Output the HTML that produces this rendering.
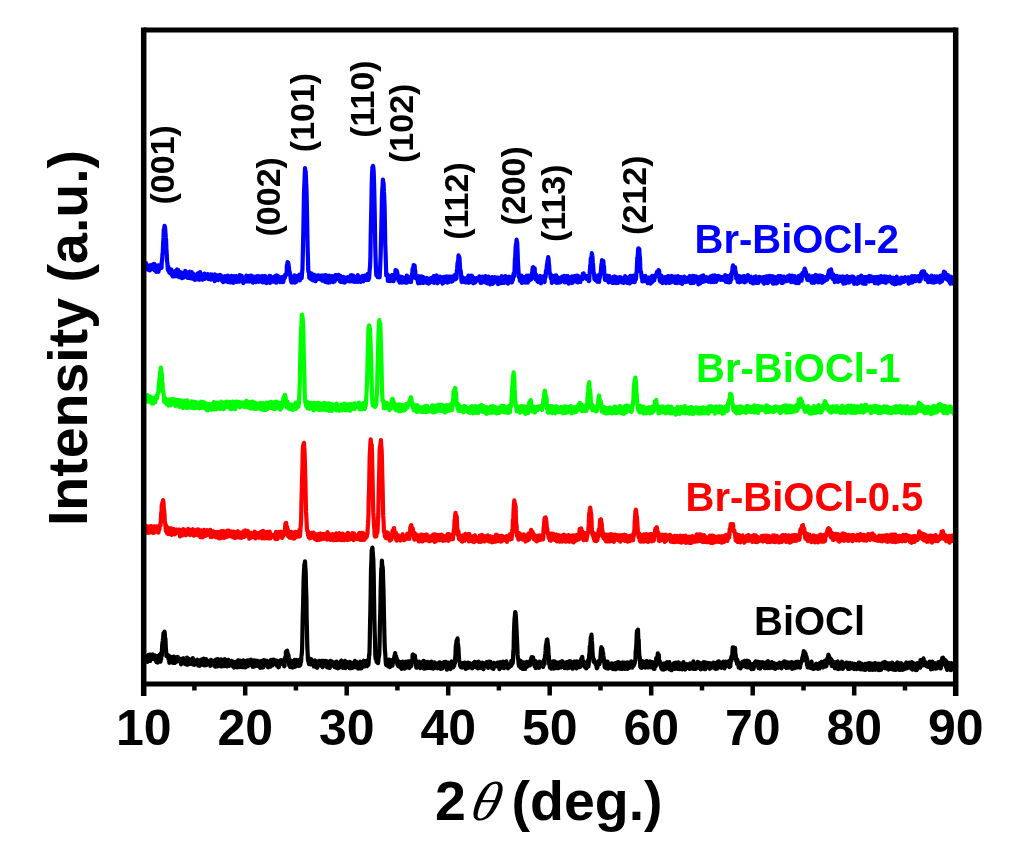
<!DOCTYPE html>
<html><head><meta charset="utf-8"><style>
html,body{margin:0;padding:0;background:#fff;}
svg{display:block;}
text{font-family:"Liberation Sans",Arial,sans-serif;font-weight:bold;}
.tk{font-size:50px;text-anchor:middle;}
.hkl{font-size:34px;text-anchor:middle;}
.lab{font-size:40px;}
</style></head><body>
<svg width="1014" height="853" viewBox="0 0 1014 853">
<rect width="1014" height="853" fill="#fff"/>
<polyline points="143.0,266.9 143.3,265.2 143.7,263.0 144.0,261.3 144.3,268.6 144.7,265.9 145.0,267.7 145.3,268.5 145.6,267.0 146.0,263.1 146.3,269.2 146.6,264.2 147.0,266.7 147.3,266.5 147.6,266.5 148.0,266.2 148.3,269.7 148.6,266.4 148.9,268.4 149.3,266.5 149.6,270.4 149.9,270.2 150.3,265.9 150.6,265.2 150.9,269.3 151.3,269.2 151.6,268.4 151.9,266.6 152.2,266.4 152.6,264.7 152.9,268.5 153.2,264.4 153.6,265.7 153.9,268.9 154.2,263.9 154.6,270.3 154.9,264.6 155.2,268.1 155.5,268.5 155.9,266.4 156.2,271.8 156.5,267.1 156.9,268.3 157.2,271.1 157.5,269.5 157.9,267.3 158.2,265.3 158.5,271.8 158.8,268.8 159.2,268.7 159.5,268.6 159.8,265.2 160.2,268.4 160.5,268.3 160.8,267.9 161.2,264.5 161.5,267.8 161.8,261.3 162.1,260.2 162.5,253.8 162.8,252.6 163.1,243.9 163.5,237.4 163.8,229.4 164.1,229.1 164.5,225.9 164.8,226.4 165.1,227.9 165.4,232.4 165.8,237.4 166.1,240.0 166.4,248.8 166.8,254.8 167.1,261.8 167.4,263.1 167.8,269.9 168.1,269.6 168.4,266.8 168.7,270.3 169.1,271.9 169.4,272.7 169.7,270.4 170.1,269.2 170.4,272.3 170.7,273.5 171.1,271.8 171.4,269.6 171.7,272.9 172.0,274.3 172.4,275.7 172.7,276.3 173.0,271.6 173.4,274.9 173.7,274.0 174.0,276.4 174.4,272.7 174.7,275.5 175.0,273.1 175.3,271.2 175.7,276.2 176.0,271.3 176.3,271.8 176.7,269.8 177.0,269.4 177.3,272.2 177.7,271.8 178.0,275.2 178.3,270.1 178.6,276.8 179.0,276.2 179.3,277.2 179.6,276.1 180.0,275.3 180.3,276.3 180.6,277.2 181.0,276.9 181.3,272.4 181.6,277.6 181.9,278.1 182.3,275.9 182.6,275.3 182.9,275.4 183.3,275.8 183.6,277.6 183.9,273.2 184.3,273.8 184.6,273.2 184.9,276.2 185.2,270.9 185.6,273.5 185.9,273.4 186.2,273.4 186.6,274.8 186.9,272.3 187.2,277.4 187.6,273.5 187.9,278.0 188.2,278.0 188.5,273.6 188.9,273.6 189.2,275.4 189.5,273.5 189.9,271.7 190.2,273.4 190.5,272.8 190.9,274.8 191.2,278.5 191.5,275.4 191.8,272.0 192.2,277.4 192.5,278.3 192.8,278.5 193.2,274.8 193.5,273.9 193.8,279.1 194.2,274.9 194.5,276.5 194.8,279.8 195.1,278.8 195.5,279.3 195.8,279.6 196.1,278.3 196.5,275.2 196.8,274.4 197.1,278.5 197.5,277.2 197.8,273.3 198.1,279.3 198.4,273.3 198.8,278.9 199.1,278.6 199.4,279.8 199.8,274.3 200.1,272.1 200.4,276.1 200.8,279.3 201.1,279.3 201.4,275.0 201.7,275.2 202.1,279.5 202.4,278.4 202.7,279.7 203.1,278.8 203.4,276.5 203.7,274.0 204.1,276.9 204.4,273.7 204.7,278.9 205.0,278.5 205.4,277.2 205.7,275.4 206.0,278.2 206.4,275.8 206.7,275.9 207.0,277.1 207.4,277.4 207.7,274.2 208.0,278.3 208.3,274.3 208.7,279.1 209.0,275.2 209.3,277.0 209.7,278.8 210.0,277.1 210.3,277.6 210.7,274.3 211.0,279.6 211.3,277.2 211.6,278.1 212.0,275.7 212.3,279.1 212.6,274.6 213.0,275.1 213.3,279.0 213.6,279.1 214.0,277.7 214.3,275.6 214.6,281.2 214.9,274.4 215.3,275.7 215.6,280.2 215.9,280.1 216.3,278.8 216.6,278.3 216.9,276.8 217.3,275.3 217.6,278.9 217.9,277.4 218.2,280.1 218.6,275.6 218.9,277.4 219.2,279.2 219.6,277.9 219.9,274.9 220.2,278.9 220.6,275.7 220.9,275.5 221.2,276.9 221.5,276.5 221.9,280.6 222.2,280.4 222.5,281.2 222.9,281.0 223.2,282.2 223.5,278.3 223.9,281.7 224.2,279.9 224.5,279.7 224.8,276.0 225.2,281.4 225.5,280.3 225.8,279.2 226.2,276.9 226.5,276.9 226.8,280.5 227.2,281.5 227.5,281.4 227.8,275.5 228.1,282.1 228.5,279.3 228.8,276.9 229.1,280.7 229.5,281.1 229.8,282.2 230.1,278.6 230.5,279.7 230.8,282.4 231.1,278.3 231.4,275.9 231.8,280.6 232.1,281.1 232.4,279.4 232.8,278.8 233.1,277.2 233.4,282.8 233.8,282.4 234.1,276.0 234.4,277.0 234.7,279.5 235.1,280.4 235.4,280.5 235.7,278.4 236.1,277.1 236.4,276.2 236.7,281.9 237.1,280.3 237.4,278.1 237.7,281.3 238.0,281.4 238.4,279.0 238.7,281.1 239.0,281.6 239.4,278.2 239.7,275.1 240.0,280.7 240.4,277.3 240.7,276.8 241.0,277.0 241.3,279.8 241.7,275.8 242.0,281.6 242.3,279.0 242.7,278.0 243.0,281.2 243.3,283.1 243.7,278.3 244.0,280.3 244.3,278.2 244.6,279.6 245.0,278.9 245.3,281.4 245.6,277.5 246.0,279.5 246.3,275.6 246.6,281.5 247.0,278.2 247.3,278.6 247.6,277.1 247.9,276.1 248.3,276.3 248.6,278.1 248.9,281.6 249.3,279.9 249.6,277.7 249.9,275.9 250.3,280.1 250.6,280.5 250.9,281.0 251.2,275.6 251.6,275.7 251.9,279.4 252.2,281.8 252.6,280.6 252.9,282.7 253.2,282.5 253.6,281.4 253.9,276.5 254.2,278.4 254.5,280.6 254.9,281.1 255.2,280.5 255.5,282.2 255.9,281.9 256.2,281.0 256.5,278.2 256.9,276.2 257.2,278.1 257.5,276.5 257.8,278.9 258.2,277.2 258.5,276.1 258.8,282.0 259.2,279.0 259.5,280.8 259.8,281.2 260.2,279.5 260.5,278.9 260.8,281.0 261.1,276.4 261.5,277.7 261.8,281.7 262.1,281.6 262.5,276.0 262.8,282.4 263.1,277.6 263.5,279.9 263.8,277.2 264.1,276.1 264.4,282.2 264.8,281.2 265.1,276.2 265.4,281.7 265.8,281.2 266.1,282.8 266.4,283.1 266.8,282.9 267.1,278.2 267.4,279.7 267.7,282.1 268.1,277.4 268.4,281.6 268.7,279.3 269.1,277.9 269.4,275.9 269.7,280.2 270.1,283.0 270.4,276.2 270.7,280.3 271.0,280.9 271.4,280.3 271.7,281.8 272.0,279.9 272.4,278.6 272.7,277.4 273.0,280.9 273.4,278.3 273.7,281.7 274.0,280.0 274.3,277.2 274.7,279.2 275.0,276.0 275.3,276.3 275.7,279.2 276.0,279.9 276.3,282.7 276.7,275.4 277.0,277.7 277.3,277.1 277.6,278.1 278.0,276.3 278.3,276.3 278.6,277.2 279.0,276.5 279.3,280.1 279.6,278.8 280.0,282.1 280.3,281.8 280.6,280.8 280.9,280.9 281.3,278.7 281.6,279.5 281.9,279.8 282.3,282.1 282.6,276.9 282.9,279.3 283.3,281.9 283.6,279.6 283.9,279.1 284.2,276.5 284.6,277.5 284.9,277.9 285.2,274.6 285.6,275.5 285.9,275.3 286.2,274.9 286.6,274.6 286.9,265.0 287.2,266.2 287.5,262.2 287.9,266.2 288.2,262.5 288.5,264.3 288.9,267.7 289.2,271.6 289.5,271.5 289.9,272.7 290.2,274.8 290.5,276.9 290.8,279.8 291.2,281.4 291.5,282.4 291.8,282.1 292.2,282.4 292.5,278.7 292.8,277.8 293.2,278.3 293.5,278.0 293.8,279.3 294.1,279.5 294.5,275.4 294.8,282.6 295.1,280.8 295.5,277.0 295.8,280.2 296.1,282.0 296.5,278.2 296.8,276.0 297.1,278.9 297.4,277.4 297.8,279.8 298.1,275.8 298.4,280.4 298.8,275.7 299.1,279.6 299.4,274.6 299.8,280.4 300.1,274.9 300.4,279.0 300.7,277.0 301.1,275.1 301.4,276.6 301.7,278.1 302.1,272.2 302.4,269.7 302.7,259.8 303.1,242.0 303.4,228.0 303.7,210.1 304.0,192.4 304.4,183.4 304.7,176.1 305.0,168.0 305.4,173.3 305.7,171.3 306.0,179.1 306.4,187.9 306.7,197.3 307.0,212.1 307.3,230.5 307.7,250.6 308.0,259.9 308.3,271.5 308.7,271.7 309.0,272.1 309.3,278.0 309.7,275.9 310.0,278.1 310.3,278.6 310.6,274.0 311.0,278.6 311.3,273.3 311.6,277.5 312.0,279.9 312.3,274.9 312.6,278.6 313.0,280.4 313.3,280.2 313.6,274.6 313.9,278.0 314.3,274.8 314.6,276.3 314.9,277.8 315.3,280.2 315.6,281.2 315.9,277.5 316.3,276.8 316.6,276.5 316.9,275.6 317.2,279.5 317.6,275.9 317.9,279.1 318.2,277.5 318.6,275.3 318.9,277.0 319.2,277.8 319.6,275.9 319.9,277.2 320.2,278.8 320.5,279.3 320.9,275.6 321.2,275.8 321.5,278.3 321.9,275.7 322.2,278.2 322.5,280.7 322.9,278.9 323.2,277.1 323.5,279.3 323.8,275.4 324.2,278.3 324.5,280.6 324.8,276.7 325.2,281.8 325.5,279.7 325.8,275.0 326.2,281.1 326.5,277.5 326.8,280.6 327.1,282.3 327.5,280.0 327.8,277.0 328.1,279.1 328.5,282.6 328.8,278.7 329.1,275.7 329.5,281.7 329.8,282.3 330.1,276.8 330.4,276.6 330.8,280.2 331.1,280.6 331.4,281.6 331.8,280.0 332.1,276.0 332.4,279.3 332.8,281.6 333.1,282.1 333.4,281.4 333.7,277.7 334.1,279.8 334.4,281.2 334.7,281.4 335.1,277.1 335.4,275.1 335.7,279.2 336.1,277.0 336.4,276.1 336.7,276.4 337.0,277.9 337.4,275.1 337.7,276.1 338.0,275.4 338.4,279.5 338.7,274.8 339.0,276.7 339.4,276.0 339.7,275.8 340.0,281.5 340.3,275.8 340.7,281.8 341.0,277.5 341.3,278.9 341.7,278.5 342.0,281.9 342.3,282.0 342.7,278.8 343.0,276.9 343.3,280.3 343.6,280.9 344.0,278.5 344.3,277.5 344.6,282.7 345.0,279.5 345.3,277.7 345.6,278.0 346.0,281.1 346.3,280.4 346.6,281.3 346.9,277.6 347.3,278.2 347.6,277.2 347.9,278.6 348.3,280.1 348.6,279.9 348.9,277.3 349.3,279.5 349.6,281.4 349.9,281.2 350.2,276.9 350.6,275.4 350.9,276.1 351.2,279.3 351.6,275.2 351.9,275.5 352.2,281.3 352.6,278.2 352.9,278.6 353.2,275.6 353.5,276.9 353.9,276.1 354.2,281.8 354.5,277.3 354.9,282.0 355.2,279.5 355.5,281.5 355.9,277.1 356.2,278.1 356.5,279.7 356.8,277.1 357.2,277.2 357.5,281.9 357.8,275.1 358.2,278.6 358.5,280.4 358.8,276.9 359.2,281.6 359.5,277.8 359.8,281.1 360.1,281.4 360.5,279.6 360.8,281.9 361.1,278.3 361.5,280.5 361.8,277.1 362.1,276.3 362.5,275.9 362.8,276.9 363.1,277.3 363.4,281.3 363.8,278.0 364.1,280.6 364.4,279.9 364.8,275.6 365.1,277.7 365.4,279.2 365.8,275.4 366.1,277.7 366.4,275.4 366.7,280.0 367.1,277.2 367.4,275.5 367.7,273.8 368.1,277.6 368.4,279.9 368.7,278.7 369.1,278.1 369.4,273.9 369.7,269.3 370.0,267.1 370.4,257.2 370.7,236.0 371.0,222.1 371.4,204.3 371.7,186.1 372.0,175.0 372.4,167.0 372.7,168.6 373.0,165.9 373.3,167.2 373.7,171.8 374.0,181.2 374.3,192.1 374.7,211.3 375.0,231.2 375.3,248.3 375.7,262.3 376.0,269.7 376.3,275.4 376.6,271.7 377.0,274.9 377.3,275.9 377.6,277.1 378.0,273.5 378.3,275.9 378.6,273.2 379.0,276.5 379.3,276.2 379.6,277.3 379.9,272.5 380.3,263.2 380.6,256.5 380.9,244.4 381.3,228.7 381.6,214.7 381.9,198.0 382.3,189.3 382.6,185.8 382.9,179.5 383.2,182.0 383.6,183.5 383.9,191.4 384.2,195.8 384.6,206.5 384.9,222.9 385.2,243.1 385.6,252.8 385.9,263.7 386.2,275.4 386.5,275.4 386.9,274.8 387.2,276.0 387.5,274.3 387.9,280.8 388.2,276.0 388.5,275.8 388.9,280.1 389.2,278.9 389.5,276.2 389.8,278.0 390.2,281.2 390.5,278.8 390.8,277.4 391.2,279.0 391.5,277.1 391.8,275.0 392.2,275.5 392.5,280.2 392.8,277.6 393.1,279.4 393.5,281.2 393.8,278.5 394.1,274.7 394.5,279.1 394.8,276.6 395.1,276.2 395.5,270.0 395.8,276.7 396.1,274.7 396.4,270.4 396.8,273.1 397.1,271.6 397.4,273.3 397.8,278.5 398.1,275.9 398.4,280.7 398.8,278.3 399.1,278.9 399.4,276.4 399.7,282.7 400.1,281.3 400.4,281.6 400.7,279.9 401.1,277.8 401.4,276.8 401.7,277.7 402.1,282.7 402.4,281.7 402.7,279.0 403.0,281.5 403.4,277.5 403.7,281.9 404.0,280.2 404.4,282.4 404.7,280.0 405.0,281.9 405.4,279.1 405.7,282.7 406.0,280.2 406.3,279.2 406.7,275.7 407.0,282.6 407.3,276.0 407.7,278.6 408.0,280.5 408.3,278.3 408.7,277.0 409.0,280.7 409.3,280.2 409.6,281.0 410.0,281.7 410.3,277.4 410.6,280.0 411.0,282.0 411.3,277.7 411.6,279.2 412.0,274.4 412.3,273.1 412.6,268.7 412.9,268.4 413.3,267.7 413.6,265.0 413.9,268.7 414.3,266.2 414.6,265.4 414.9,269.9 415.3,271.1 415.6,278.2 415.9,278.2 416.2,275.8 416.6,275.8 416.9,277.0 417.2,279.4 417.6,280.6 417.9,281.9 418.2,283.3 418.6,276.7 418.9,276.2 419.2,281.5 419.5,276.6 419.9,277.7 420.2,283.1 420.5,280.5 420.9,276.5 421.2,276.4 421.5,282.4 421.9,280.0 422.2,282.2 422.5,277.4 422.8,282.9 423.2,277.2 423.5,282.8 423.8,281.3 424.2,281.5 424.5,281.7 424.8,280.4 425.2,278.6 425.5,279.1 425.8,282.4 426.1,279.9 426.5,279.6 426.8,277.9 427.1,278.0 427.5,283.0 427.8,281.4 428.1,278.6 428.5,282.3 428.8,283.5 429.1,283.2 429.4,281.8 429.8,281.5 430.1,279.1 430.4,281.2 430.8,281.7 431.1,277.9 431.4,278.0 431.8,281.3 432.1,282.2 432.4,280.8 432.7,278.1 433.1,282.0 433.4,278.4 433.7,276.1 434.1,282.9 434.4,280.7 434.7,277.1 435.1,278.9 435.4,278.2 435.7,279.2 436.0,282.5 436.4,275.3 436.7,276.3 437.0,282.5 437.4,283.2 437.7,282.3 438.0,278.0 438.4,277.2 438.7,276.9 439.0,281.9 439.3,281.2 439.7,279.5 440.0,276.6 440.3,278.5 440.7,279.8 441.0,278.5 441.3,277.2 441.7,281.7 442.0,277.9 442.3,282.6 442.6,283.6 443.0,283.4 443.3,277.1 443.6,277.2 444.0,278.1 444.3,279.1 444.6,276.8 445.0,279.2 445.3,278.1 445.6,281.7 445.9,281.8 446.3,276.8 446.6,276.4 446.9,277.1 447.3,282.7 447.6,280.5 447.9,276.7 448.3,281.6 448.6,282.0 448.9,281.0 449.2,276.7 449.6,277.7 449.9,279.6 450.2,281.4 450.6,279.6 450.9,276.6 451.2,277.2 451.6,281.6 451.9,277.1 452.2,279.9 452.5,281.3 452.9,276.7 453.2,279.0 453.5,278.5 453.9,279.6 454.2,275.3 454.5,278.2 454.9,277.7 455.2,275.9 455.5,279.4 455.8,276.4 456.2,274.1 456.5,278.3 456.8,271.6 457.2,268.2 457.5,263.5 457.8,261.8 458.2,261.2 458.5,255.3 458.8,258.9 459.1,256.6 459.5,258.0 459.8,263.3 460.1,269.4 460.5,270.2 460.8,271.4 461.1,275.5 461.5,281.2 461.8,282.1 462.1,278.3 462.4,277.0 462.8,281.6 463.1,278.5 463.4,277.9 463.8,281.9 464.1,280.9 464.4,279.7 464.8,281.9 465.1,279.1 465.4,282.4 465.7,280.0 466.1,280.7 466.4,278.0 466.7,279.7 467.1,278.2 467.4,282.5 467.7,279.6 468.1,280.0 468.4,275.6 468.7,281.3 469.0,282.8 469.4,281.2 469.7,279.3 470.0,280.2 470.4,276.3 470.7,276.9 471.0,279.3 471.4,275.5 471.7,277.9 472.0,282.0 472.3,276.1 472.7,277.0 473.0,279.8 473.3,283.4 473.7,279.1 474.0,278.1 474.3,280.2 474.7,282.6 475.0,280.5 475.3,282.5 475.6,281.4 476.0,281.2 476.3,280.0 476.6,278.2 477.0,279.6 477.3,280.5 477.6,277.8 478.0,279.1 478.3,278.6 478.6,278.5 478.9,279.1 479.3,276.4 479.6,280.4 479.9,279.5 480.3,279.7 480.6,282.9 480.9,281.3 481.3,280.6 481.6,279.6 481.9,282.6 482.2,282.1 482.6,276.5 482.9,278.5 483.2,280.3 483.6,281.1 483.9,278.7 484.2,276.7 484.6,281.6 484.9,277.6 485.2,280.8 485.5,276.0 485.9,282.6 486.2,277.8 486.5,281.5 486.9,281.1 487.2,278.4 487.5,283.3 487.9,279.7 488.2,280.6 488.5,276.7 488.8,277.0 489.2,282.1 489.5,278.8 489.8,283.6 490.2,284.4 490.5,278.3 490.8,283.3 491.2,281.5 491.5,282.5 491.8,279.6 492.1,277.2 492.5,284.0 492.8,282.8 493.1,281.9 493.5,278.0 493.8,278.0 494.1,282.9 494.5,281.8 494.8,277.2 495.1,280.1 495.4,279.4 495.8,280.6 496.1,277.9 496.4,278.7 496.8,279.5 497.1,277.6 497.4,279.5 497.8,279.0 498.1,284.1 498.4,277.5 498.7,283.3 499.1,280.9 499.4,281.4 499.7,281.4 500.1,277.8 500.4,283.1 500.7,279.1 501.1,279.9 501.4,277.3 501.7,276.2 502.0,276.5 502.4,276.5 502.7,282.2 503.0,282.9 503.4,280.8 503.7,282.9 504.0,282.1 504.4,282.4 504.7,279.3 505.0,282.4 505.3,276.0 505.7,276.8 506.0,281.8 506.3,276.8 506.7,282.6 507.0,280.1 507.3,278.5 507.7,281.5 508.0,283.6 508.3,278.9 508.6,277.4 509.0,276.7 509.3,277.8 509.6,276.9 510.0,281.8 510.3,280.6 510.6,281.1 511.0,281.5 511.3,282.4 511.6,278.1 511.9,282.3 512.3,276.8 512.6,278.2 512.9,280.2 513.3,275.1 513.6,273.6 513.9,273.4 514.3,276.1 514.6,268.4 514.9,259.2 515.2,258.2 515.6,247.6 515.9,244.5 516.2,244.2 516.6,239.7 516.9,242.2 517.2,242.6 517.6,251.5 517.9,260.5 518.2,266.1 518.5,270.9 518.9,277.1 519.2,276.7 519.5,275.9 519.9,280.9 520.2,278.4 520.5,280.4 520.9,276.6 521.2,278.3 521.5,275.7 521.8,282.9 522.2,280.5 522.5,280.9 522.8,282.1 523.2,279.0 523.5,281.7 523.8,277.8 524.2,282.0 524.5,277.6 524.8,282.5 525.1,276.9 525.5,278.8 525.8,282.7 526.1,281.8 526.5,281.9 526.8,275.7 527.1,282.4 527.5,279.4 527.8,282.6 528.1,276.7 528.4,275.7 528.8,278.2 529.1,280.5 529.4,280.2 529.8,280.2 530.1,280.1 530.4,279.4 530.8,278.0 531.1,279.1 531.4,279.1 531.7,273.6 532.1,273.6 532.4,270.6 532.7,267.7 533.1,267.1 533.4,268.2 533.7,270.2 534.1,271.0 534.4,272.1 534.7,268.4 535.0,275.9 535.4,276.7 535.7,279.4 536.0,274.5 536.4,279.9 536.7,279.8 537.0,276.5 537.4,281.2 537.7,279.9 538.0,277.4 538.3,282.2 538.7,280.9 539.0,278.9 539.3,278.1 539.7,280.7 540.0,275.8 540.3,276.9 540.7,280.3 541.0,283.4 541.3,281.7 541.6,278.1 542.0,277.2 542.3,281.7 542.6,278.4 543.0,276.3 543.3,279.2 543.6,280.8 544.0,279.8 544.3,281.3 544.6,282.0 544.9,278.2 545.3,277.1 545.6,277.2 545.9,271.0 546.3,270.2 546.6,268.7 546.9,265.2 547.3,263.2 547.6,260.6 547.9,259.5 548.2,257.2 548.6,259.4 548.9,263.6 549.2,265.5 549.6,273.3 549.9,273.7 550.2,273.7 550.6,277.1 550.9,278.5 551.2,275.5 551.5,275.1 551.9,282.8 552.2,277.8 552.5,276.1 552.9,278.5 553.2,278.1 553.5,281.4 553.9,276.5 554.2,278.4 554.5,276.0 554.8,275.8 555.2,278.3 555.5,276.4 555.8,282.3 556.2,275.3 556.5,277.2 556.8,282.9 557.2,281.0 557.5,277.8 557.8,278.6 558.1,277.5 558.5,278.7 558.8,282.6 559.1,278.2 559.5,281.3 559.8,278.1 560.1,281.4 560.5,282.2 560.8,277.7 561.1,281.3 561.4,277.8 561.8,279.1 562.1,276.7 562.4,276.9 562.8,281.2 563.1,277.2 563.4,277.7 563.8,276.4 564.1,276.0 564.4,280.3 564.7,282.5 565.1,278.8 565.4,277.6 565.7,280.4 566.1,282.2 566.4,276.2 566.7,279.5 567.1,278.4 567.4,277.5 567.7,276.1 568.0,277.1 568.4,279.8 568.7,283.6 569.0,278.7 569.4,278.5 569.7,280.4 570.0,282.3 570.4,282.3 570.7,281.5 571.0,277.1 571.3,280.4 571.7,282.8 572.0,276.3 572.3,282.9 572.7,276.6 573.0,277.7 573.3,281.8 573.7,280.0 574.0,280.4 574.3,280.7 574.6,276.1 575.0,281.1 575.3,279.9 575.6,276.9 576.0,276.0 576.3,281.6 576.6,277.3 577.0,278.0 577.3,275.5 577.6,278.2 577.9,282.5 578.3,280.0 578.6,281.5 578.9,278.7 579.3,276.5 579.6,276.9 579.9,282.0 580.3,282.0 580.6,277.3 580.9,279.2 581.2,278.8 581.6,276.8 581.9,276.8 582.2,278.9 582.6,279.1 582.9,273.7 583.2,275.9 583.6,273.4 583.9,275.6 584.2,277.4 584.5,276.5 584.9,276.7 585.2,275.5 585.5,276.5 585.9,275.9 586.2,276.9 586.5,278.8 586.9,276.7 587.2,276.7 587.5,276.1 587.8,277.6 588.2,276.9 588.5,279.3 588.8,281.2 589.2,280.8 589.5,275.4 589.8,271.6 590.2,265.6 590.5,264.5 590.8,258.3 591.1,258.3 591.5,258.0 591.8,253.1 592.1,254.6 592.5,257.8 592.8,262.7 593.1,264.9 593.5,272.1 593.8,273.2 594.1,273.9 594.4,279.2 594.8,276.2 595.1,275.8 595.4,280.2 595.8,278.9 596.1,278.0 596.4,276.6 596.8,279.1 597.1,281.6 597.4,276.5 597.7,277.2 598.1,275.3 598.4,281.1 598.7,277.1 599.1,282.0 599.4,274.8 599.7,278.7 600.1,275.2 600.4,273.2 600.7,273.7 601.0,269.5 601.4,264.2 601.7,264.7 602.0,260.2 602.4,260.5 602.7,263.4 603.0,264.1 603.4,261.2 603.7,268.5 604.0,266.1 604.3,274.3 604.7,277.2 605.0,279.8 605.3,275.2 605.7,278.8 606.0,276.8 606.3,280.2 606.7,275.5 607.0,278.4 607.3,278.2 607.6,278.7 608.0,280.5 608.3,281.5 608.6,282.3 609.0,275.9 609.3,279.6 609.6,278.1 610.0,280.5 610.3,277.4 610.6,280.1 610.9,279.9 611.3,280.2 611.6,280.6 611.9,277.4 612.3,282.8 612.6,277.1 612.9,278.4 613.3,282.9 613.6,276.9 613.9,278.3 614.2,277.1 614.6,276.5 614.9,280.7 615.2,281.7 615.6,276.9 615.9,281.2 616.2,283.2 616.6,277.8 616.9,278.3 617.2,277.5 617.5,283.0 617.9,279.3 618.2,282.8 618.5,282.5 618.9,278.9 619.2,281.5 619.5,279.9 619.9,277.2 620.2,279.8 620.5,279.4 620.8,277.4 621.2,281.7 621.5,282.2 621.8,278.0 622.2,279.4 622.5,278.8 622.8,281.3 623.2,282.3 623.5,282.7 623.8,279.7 624.1,282.7 624.5,277.5 624.8,281.7 625.1,276.2 625.5,277.8 625.8,280.2 626.1,278.7 626.5,282.2 626.8,280.8 627.1,280.7 627.4,283.0 627.8,277.6 628.1,278.2 628.4,281.1 628.8,282.5 629.1,282.3 629.4,280.1 629.8,283.4 630.1,278.7 630.4,275.8 630.7,281.6 631.1,277.0 631.4,282.5 631.7,281.5 632.1,278.5 632.4,281.9 632.7,278.6 633.1,279.6 633.4,275.6 633.7,282.0 634.0,278.6 634.4,280.7 634.7,282.2 635.0,278.2 635.4,277.3 635.7,279.7 636.0,279.0 636.4,272.7 636.7,272.2 637.0,264.8 637.3,257.7 637.7,256.9 638.0,251.3 638.3,248.3 638.7,248.3 639.0,249.9 639.3,249.0 639.7,256.2 640.0,257.6 640.3,268.5 640.6,271.8 641.0,271.9 641.3,273.6 641.6,277.7 642.0,275.6 642.3,281.5 642.6,277.1 643.0,276.9 643.3,277.0 643.6,280.9 643.9,278.4 644.3,276.6 644.6,277.3 644.9,281.1 645.3,275.8 645.6,279.2 645.9,277.9 646.3,279.5 646.6,278.0 646.9,280.0 647.2,281.4 647.6,283.1 647.9,279.3 648.2,277.6 648.6,279.8 648.9,283.0 649.2,282.5 649.6,277.6 649.9,279.3 650.2,281.8 650.5,283.6 650.9,277.2 651.2,278.8 651.5,278.0 651.9,282.5 652.2,275.8 652.5,276.3 652.9,281.2 653.2,279.7 653.5,278.4 653.8,276.3 654.2,280.5 654.5,278.7 654.8,275.6 655.2,275.3 655.5,276.0 655.8,276.0 656.2,274.5 656.5,276.4 656.8,272.1 657.1,273.2 657.5,273.3 657.8,271.4 658.1,273.0 658.5,270.0 658.8,274.1 659.1,270.6 659.5,276.9 659.8,280.9 660.1,276.0 660.4,281.7 660.8,280.0 661.1,280.1 661.4,275.7 661.8,278.9 662.1,282.2 662.4,283.1 662.8,277.5 663.1,277.1 663.4,281.7 663.7,277.9 664.1,279.5 664.4,279.1 664.7,280.9 665.1,277.1 665.4,281.4 665.7,282.7 666.1,283.0 666.4,278.9 666.7,281.4 667.0,281.5 667.4,282.1 667.7,280.1 668.0,276.0 668.4,276.1 668.7,278.6 669.0,279.2 669.4,282.9 669.7,277.3 670.0,279.7 670.3,280.6 670.7,276.3 671.0,282.3 671.3,282.2 671.7,275.9 672.0,276.7 672.3,281.2 672.7,277.0 673.0,280.7 673.3,281.6 673.6,278.4 674.0,281.8 674.3,276.5 674.6,280.4 675.0,283.0 675.3,276.7 675.6,282.2 676.0,280.2 676.3,278.4 676.6,282.2 676.9,283.0 677.3,276.3 677.6,276.2 677.9,281.1 678.3,281.9 678.6,282.1 678.9,281.8 679.3,280.9 679.6,276.8 679.9,282.9 680.2,278.1 680.6,279.8 680.9,281.9 681.2,277.0 681.6,277.5 681.9,278.4 682.2,283.9 682.6,281.5 682.9,279.9 683.2,279.6 683.5,277.2 683.9,281.2 684.2,276.6 684.5,276.7 684.9,281.8 685.2,277.7 685.5,282.2 685.9,281.0 686.2,277.8 686.5,280.1 686.8,279.9 687.2,281.6 687.5,278.9 687.8,278.0 688.2,280.0 688.5,279.8 688.8,280.5 689.2,279.1 689.5,276.0 689.8,281.1 690.1,281.2 690.5,283.0 690.8,277.4 691.1,281.4 691.5,283.0 691.8,278.6 692.1,276.9 692.5,281.6 692.8,275.9 693.1,281.5 693.4,277.1 693.8,283.0 694.1,280.6 694.4,276.1 694.8,277.7 695.1,279.4 695.4,277.5 695.8,278.0 696.1,276.4 696.4,277.2 696.7,277.6 697.1,278.8 697.4,282.1 697.7,278.9 698.1,277.7 698.4,284.4 698.7,283.8 699.1,277.1 699.4,281.0 699.7,283.2 700.0,283.5 700.4,276.9 700.7,280.7 701.0,279.0 701.4,276.1 701.7,281.8 702.0,282.1 702.4,280.3 702.7,276.5 703.0,282.0 703.3,275.4 703.7,280.8 704.0,276.4 704.3,281.5 704.7,279.3 705.0,280.7 705.3,281.0 705.7,279.6 706.0,280.2 706.3,277.0 706.6,280.5 707.0,279.2 707.3,281.1 707.6,279.9 708.0,279.1 708.3,278.5 708.6,281.7 709.0,281.0 709.3,277.3 709.6,277.5 709.9,279.6 710.3,278.1 710.6,276.3 710.9,277.6 711.3,282.2 711.6,276.0 711.9,276.9 712.3,277.4 712.6,275.6 712.9,278.8 713.2,282.0 713.6,277.4 713.9,281.1 714.2,282.1 714.6,275.4 714.9,281.0 715.2,275.7 715.6,279.1 715.9,277.3 716.2,281.8 716.5,279.0 716.9,276.2 717.2,280.2 717.5,276.3 717.9,279.1 718.2,279.5 718.5,275.9 718.9,277.7 719.2,276.3 719.5,277.4 719.8,276.7 720.2,277.8 720.5,279.8 720.8,279.2 721.2,279.0 721.5,278.4 721.8,277.5 722.2,278.9 722.5,277.0 722.8,279.7 723.1,277.8 723.5,277.6 723.8,280.1 724.1,277.0 724.5,278.4 724.8,278.3 725.1,275.1 725.5,275.8 725.8,281.9 726.1,277.5 726.4,282.0 726.8,278.5 727.1,276.1 727.4,282.2 727.8,280.6 728.1,281.2 728.4,278.9 728.8,276.0 729.1,280.1 729.4,282.4 729.7,276.2 730.1,278.1 730.4,282.0 730.7,274.6 731.1,276.1 731.4,279.1 731.7,272.6 732.1,274.1 732.4,269.2 732.7,266.9 733.0,265.3 733.4,268.2 733.7,268.7 734.0,267.1 734.4,268.5 734.7,267.6 735.0,267.1 735.4,271.6 735.7,271.9 736.0,274.1 736.3,278.6 736.7,275.2 737.0,279.2 737.3,277.9 737.7,281.9 738.0,275.7 738.3,279.8 738.7,276.8 739.0,277.3 739.3,282.3 739.6,281.1 740.0,276.3 740.3,277.4 740.6,281.2 741.0,280.6 741.3,279.9 741.6,280.9 742.0,281.5 742.3,280.9 742.6,278.6 742.9,277.9 743.3,276.2 743.6,280.1 743.9,281.4 744.3,276.2 744.6,282.4 744.9,280.6 745.3,278.5 745.6,276.9 745.9,281.7 746.2,277.2 746.6,278.8 746.9,277.9 747.2,277.2 747.6,278.7 747.9,275.0 748.2,279.8 748.6,280.2 748.9,278.3 749.2,278.2 749.5,278.1 749.9,278.4 750.2,280.1 750.5,282.3 750.9,276.5 751.2,277.5 751.5,280.2 751.9,279.6 752.2,277.8 752.5,283.0 752.8,279.7 753.2,283.4 753.5,282.6 753.8,281.9 754.2,278.3 754.5,276.9 754.8,282.6 755.2,278.0 755.5,280.9 755.8,276.4 756.1,277.3 756.5,279.0 756.8,283.0 757.1,278.0 757.5,277.5 757.8,277.5 758.1,283.0 758.5,278.2 758.8,277.2 759.1,279.9 759.4,276.8 759.8,277.4 760.1,279.8 760.4,279.6 760.8,277.8 761.1,278.3 761.4,277.5 761.8,277.7 762.1,281.7 762.4,280.2 762.7,278.3 763.1,281.8 763.4,277.0 763.7,282.8 764.1,283.6 764.4,280.1 764.7,278.1 765.1,278.2 765.4,276.7 765.7,276.7 766.0,281.4 766.4,276.4 766.7,282.8 767.0,281.5 767.4,276.7 767.7,283.1 768.0,276.2 768.4,282.3 768.7,281.3 769.0,281.8 769.3,279.5 769.7,276.8 770.0,276.0 770.3,281.5 770.7,279.4 771.0,280.1 771.3,278.5 771.7,281.5 772.0,282.0 772.3,276.2 772.6,278.9 773.0,283.7 773.3,280.2 773.6,283.5 774.0,281.6 774.3,276.9 774.6,282.3 775.0,278.9 775.3,283.5 775.6,277.4 775.9,282.2 776.3,278.6 776.6,283.5 776.9,277.1 777.3,280.7 777.6,282.7 777.9,281.2 778.3,276.0 778.6,277.1 778.9,278.7 779.2,278.3 779.6,279.0 779.9,276.0 780.2,279.5 780.6,279.0 780.9,276.0 781.2,278.4 781.6,282.9 781.9,279.9 782.2,280.4 782.5,280.2 782.9,282.9 783.2,278.6 783.5,278.8 783.9,276.5 784.2,281.8 784.5,279.6 784.9,277.5 785.2,281.2 785.5,279.1 785.8,280.4 786.2,279.5 786.5,281.2 786.8,280.8 787.2,278.1 787.5,276.4 787.8,278.9 788.2,280.2 788.5,280.6 788.8,276.0 789.1,276.3 789.5,275.5 789.8,280.4 790.1,279.3 790.5,279.5 790.8,277.6 791.1,282.1 791.5,280.1 791.8,281.9 792.1,275.7 792.4,278.1 792.8,277.0 793.1,282.0 793.4,279.0 793.8,280.9 794.1,282.2 794.4,276.0 794.8,281.8 795.1,281.3 795.4,280.7 795.7,278.4 796.1,283.1 796.4,277.7 796.7,278.2 797.1,280.1 797.4,282.7 797.7,280.0 798.1,279.9 798.4,276.1 798.7,283.2 799.0,280.7 799.4,280.8 799.7,275.7 800.0,276.2 800.4,277.9 800.7,280.0 801.0,280.6 801.4,274.5 801.7,280.7 802.0,275.3 802.3,273.2 802.7,275.8 803.0,274.8 803.3,272.4 803.7,275.1 804.0,272.8 804.3,270.0 804.7,268.6 805.0,275.4 805.3,269.9 805.6,274.5 806.0,272.1 806.3,274.5 806.6,277.1 807.0,278.5 807.3,279.9 807.6,279.6 808.0,277.0 808.3,280.1 808.6,277.8 808.9,275.3 809.3,280.2 809.6,277.0 809.9,278.4 810.3,280.6 810.6,280.3 810.9,277.6 811.3,280.2 811.6,282.6 811.9,282.2 812.2,278.6 812.6,276.2 812.9,282.6 813.2,282.5 813.6,276.1 813.9,279.0 814.2,282.8 814.6,278.5 814.9,279.1 815.2,276.3 815.5,275.0 815.9,281.2 816.2,281.2 816.5,275.4 816.9,279.8 817.2,275.7 817.5,281.2 817.9,282.3 818.2,281.6 818.5,277.8 818.8,275.6 819.2,276.2 819.5,282.2 819.8,275.8 820.2,276.2 820.5,280.0 820.8,275.7 821.2,279.2 821.5,278.6 821.8,281.0 822.1,282.8 822.5,277.1 822.8,276.2 823.1,279.5 823.5,279.2 823.8,277.4 824.1,281.3 824.5,279.3 824.8,277.8 825.1,280.3 825.4,279.8 825.8,277.2 826.1,279.8 826.4,278.3 826.8,276.7 827.1,279.7 827.4,278.0 827.8,276.0 828.1,274.0 828.4,277.6 828.7,271.6 829.1,271.1 829.4,270.3 829.7,271.3 830.1,274.8 830.4,274.2 830.7,274.6 831.1,269.4 831.4,271.2 831.7,274.1 832.0,275.3 832.4,278.6 832.7,278.9 833.0,274.4 833.4,274.4 833.7,276.3 834.0,278.6 834.4,276.8 834.7,282.1 835.0,279.5 835.3,278.6 835.7,280.5 836.0,278.6 836.3,276.2 836.7,276.0 837.0,281.4 837.3,277.2 837.7,279.5 838.0,281.8 838.3,280.0 838.6,276.5 839.0,281.2 839.3,278.4 839.6,280.1 840.0,278.5 840.3,276.7 840.6,280.0 841.0,280.8 841.3,277.7 841.6,280.8 841.9,278.3 842.3,281.0 842.6,276.4 842.9,277.2 843.3,283.6 843.6,277.0 843.9,278.7 844.3,283.4 844.6,283.1 844.9,276.9 845.2,282.7 845.6,283.3 845.9,279.0 846.2,281.7 846.6,280.1 846.9,277.2 847.2,276.2 847.6,280.3 847.9,278.6 848.2,276.8 848.5,276.8 848.9,282.6 849.2,277.2 849.5,281.4 849.9,277.3 850.2,278.3 850.5,281.6 850.9,278.7 851.2,277.2 851.5,276.8 851.8,281.4 852.2,280.0 852.5,276.5 852.8,278.8 853.2,281.7 853.5,276.8 853.8,277.2 854.2,283.8 854.5,281.8 854.8,281.7 855.1,283.3 855.5,279.5 855.8,283.3 856.1,282.3 856.5,278.9 856.8,280.6 857.1,283.8 857.5,279.2 857.8,283.2 858.1,277.2 858.4,277.7 858.8,277.5 859.1,282.9 859.4,278.2 859.8,276.8 860.1,277.7 860.4,278.1 860.8,278.5 861.1,275.5 861.4,281.2 861.7,278.1 862.1,281.8 862.4,282.1 862.7,283.3 863.1,276.8 863.4,280.2 863.7,283.7 864.1,277.1 864.4,283.5 864.7,283.1 865.0,279.5 865.4,277.6 865.7,283.9 866.0,277.1 866.4,281.4 866.7,277.0 867.0,280.4 867.4,279.8 867.7,281.5 868.0,280.6 868.3,277.0 868.7,277.5 869.0,281.6 869.3,275.9 869.7,279.7 870.0,278.4 870.3,276.3 870.7,276.5 871.0,276.4 871.3,278.8 871.6,278.0 872.0,281.1 872.3,280.3 872.6,280.8 873.0,278.8 873.3,278.4 873.6,279.0 874.0,277.1 874.3,281.8 874.6,281.8 874.9,283.2 875.3,277.9 875.6,282.5 875.9,281.0 876.3,281.4 876.6,282.7 876.9,276.9 877.3,280.8 877.6,278.0 877.9,283.7 878.2,283.0 878.6,276.9 878.9,282.3 879.2,277.2 879.6,278.1 879.9,278.0 880.2,282.6 880.6,278.9 880.9,276.1 881.2,276.3 881.5,279.8 881.9,280.4 882.2,281.4 882.5,276.8 882.9,281.8 883.2,277.8 883.5,279.5 883.9,282.1 884.2,281.8 884.5,276.3 884.8,281.8 885.2,279.6 885.5,279.0 885.8,282.8 886.2,280.8 886.5,277.9 886.8,276.7 887.2,277.1 887.5,278.9 887.8,277.7 888.1,279.3 888.5,281.3 888.8,279.6 889.1,278.1 889.5,279.8 889.8,276.7 890.1,278.6 890.5,279.1 890.8,281.6 891.1,279.0 891.4,281.7 891.8,282.5 892.1,281.5 892.4,283.4 892.8,283.0 893.1,277.7 893.4,279.9 893.8,282.5 894.1,282.0 894.4,283.2 894.7,284.3 895.1,281.9 895.4,280.6 895.7,282.5 896.1,283.9 896.4,281.5 896.7,276.6 897.1,282.6 897.4,278.1 897.7,278.1 898.0,279.2 898.4,283.0 898.7,281.4 899.0,283.5 899.4,281.8 899.7,279.5 900.0,278.6 900.4,283.5 900.7,278.1 901.0,281.6 901.3,277.6 901.7,282.6 902.0,282.2 902.3,278.1 902.7,279.2 903.0,278.6 903.3,279.0 903.7,278.4 904.0,281.8 904.3,279.2 904.6,281.4 905.0,277.0 905.3,277.2 905.6,279.4 906.0,277.5 906.3,278.7 906.6,277.8 907.0,279.2 907.3,279.2 907.6,279.9 907.9,278.3 908.3,277.3 908.6,283.7 908.9,281.0 909.3,281.6 909.6,278.1 909.9,278.5 910.3,280.1 910.6,278.1 910.9,282.6 911.2,278.3 911.6,278.6 911.9,276.1 912.2,282.5 912.6,282.5 912.9,277.4 913.2,281.0 913.6,280.2 913.9,279.9 914.2,279.8 914.5,276.2 914.9,278.5 915.2,280.9 915.5,281.0 915.9,276.3 916.2,278.9 916.5,278.3 916.9,280.3 917.2,276.7 917.5,276.4 917.8,279.5 918.2,276.1 918.5,276.6 918.8,279.0 919.2,281.4 919.5,276.2 919.8,281.2 920.2,276.7 920.5,278.5 920.8,279.3 921.1,273.1 921.5,275.3 921.8,271.8 922.1,272.8 922.5,271.4 922.8,275.1 923.1,272.8 923.5,272.8 923.8,271.3 924.1,271.5 924.4,273.0 924.8,274.5 925.1,273.7 925.4,279.5 925.8,276.7 926.1,274.5 926.4,277.4 926.8,276.3 927.1,279.0 927.4,280.5 927.7,275.8 928.1,282.2 928.4,277.6 928.7,277.3 929.1,280.0 929.4,280.5 929.7,281.8 930.1,280.3 930.4,278.6 930.7,277.5 931.0,280.2 931.4,276.5 931.7,275.8 932.0,282.3 932.4,276.0 932.7,276.8 933.0,277.8 933.4,278.6 933.7,277.7 934.0,282.7 934.3,276.4 934.7,277.4 935.0,279.1 935.3,280.9 935.7,281.8 936.0,281.0 936.3,281.7 936.7,276.3 937.0,281.7 937.3,277.7 937.6,277.9 938.0,281.2 938.3,278.3 938.6,278.3 939.0,278.2 939.3,277.1 939.6,276.4 940.0,282.6 940.3,279.7 940.6,276.9 940.9,275.7 941.3,278.0 941.6,275.6 941.9,281.4 942.3,277.7 942.6,279.9 942.9,274.7 943.3,277.3 943.6,276.1 943.9,271.7 944.2,277.7 944.6,274.2 944.9,276.8 945.2,272.5 945.6,277.7 945.9,274.4 946.2,278.4 946.6,279.1 946.9,276.5 947.2,279.0 947.5,278.7 947.9,275.2 948.2,280.3 948.5,280.7 948.9,277.8 949.2,279.0 949.5,280.0 949.9,282.7 950.2,280.5 950.5,283.7 950.8,276.6 951.2,280.2 951.5,279.8 951.8,280.1 952.2,277.4 952.5,278.1 952.8,278.5 953.2,283.6 953.5,278.6 953.8,281.3 954.1,278.5 954.5,282.6 954.8,277.8 955.1,278.2 955.5,280.5 955.8,279.8" fill="none" stroke="#0000ff" stroke-width="4.2" stroke-linejoin="round"/>
<polyline points="143.0,401.8 143.3,397.3 143.7,400.5 144.0,399.0 144.3,396.9 144.7,401.6 145.0,401.3 145.3,397.5 145.6,402.1 146.0,396.5 146.3,400.7 146.6,399.7 147.0,398.3 147.3,395.0 147.6,401.7 148.0,399.6 148.3,398.4 148.6,398.1 148.9,400.5 149.3,397.9 149.6,399.4 149.9,398.6 150.3,396.4 150.6,398.0 150.9,402.5 151.3,402.4 151.6,401.3 151.9,399.9 152.2,403.6 152.6,402.7 152.9,397.8 153.2,400.3 153.6,403.4 153.9,401.9 154.2,398.9 154.6,399.4 154.9,399.6 155.2,402.0 155.5,400.4 155.9,398.1 156.2,398.6 156.5,395.7 156.9,398.5 157.2,396.1 157.5,394.6 157.9,393.5 158.2,392.2 158.5,392.3 158.8,383.9 159.2,382.2 159.5,378.1 159.8,377.5 160.2,371.7 160.5,373.2 160.8,367.5 161.2,372.8 161.5,377.1 161.8,373.0 162.1,383.9 162.5,382.8 162.8,391.5 163.1,390.3 163.5,393.3 163.8,395.5 164.1,401.9 164.5,401.3 164.8,400.7 165.1,401.0 165.4,398.4 165.8,400.5 166.1,400.1 166.4,403.8 166.8,400.3 167.1,402.8 167.4,400.0 167.8,404.6 168.1,404.3 168.4,405.5 168.7,399.7 169.1,404.8 169.4,401.9 169.7,402.3 170.1,402.7 170.4,399.4 170.7,405.3 171.1,403.2 171.4,399.6 171.7,404.5 172.0,399.6 172.4,401.6 172.7,403.5 173.0,401.7 173.4,398.8 173.7,403.1 174.0,401.3 174.4,401.4 174.7,399.5 175.0,399.9 175.3,406.0 175.7,403.1 176.0,403.1 176.3,404.5 176.7,401.6 177.0,400.0 177.3,403.4 177.7,402.1 178.0,402.5 178.3,400.2 178.6,403.1 179.0,400.2 179.3,406.8 179.6,403.0 180.0,405.7 180.3,404.7 180.6,403.5 181.0,402.9 181.3,400.6 181.6,405.3 181.9,401.2 182.3,402.5 182.6,408.0 182.9,403.4 183.3,403.2 183.6,405.5 183.9,402.2 184.3,403.0 184.6,402.6 184.9,405.4 185.2,400.7 185.6,403.0 185.9,407.8 186.2,405.2 186.6,404.0 186.9,402.6 187.2,400.3 187.6,407.2 187.9,407.5 188.2,408.0 188.5,404.3 188.9,405.3 189.2,402.8 189.5,407.0 189.9,405.3 190.2,402.9 190.5,402.9 190.9,403.5 191.2,405.9 191.5,406.5 191.8,401.4 192.2,408.0 192.5,406.5 192.8,406.6 193.2,402.2 193.5,401.9 193.8,406.4 194.2,408.3 194.5,403.7 194.8,401.9 195.1,403.9 195.5,407.8 195.8,407.7 196.1,403.0 196.5,402.5 196.8,404.9 197.1,403.5 197.5,407.7 197.8,404.9 198.1,403.1 198.4,404.5 198.8,403.0 199.1,406.4 199.4,408.5 199.8,405.9 200.1,403.0 200.4,407.2 200.8,403.5 201.1,401.6 201.4,402.4 201.7,404.1 202.1,407.8 202.4,403.2 202.7,407.5 203.1,402.1 203.4,408.0 203.7,407.3 204.1,402.8 204.4,402.4 204.7,403.9 205.0,403.5 205.4,407.3 205.7,406.3 206.0,406.9 206.4,404.8 206.7,410.2 207.0,403.6 207.4,407.9 207.7,406.7 208.0,410.3 208.3,410.0 208.7,406.2 209.0,405.8 209.3,405.3 209.7,403.9 210.0,407.8 210.3,409.4 210.7,406.1 211.0,409.6 211.3,404.3 211.6,404.5 212.0,409.5 212.3,409.0 212.6,406.0 213.0,406.3 213.3,404.7 213.6,402.2 214.0,404.9 214.3,409.3 214.6,405.6 214.9,407.9 215.3,402.9 215.6,407.4 215.9,406.3 216.3,409.3 216.6,404.0 216.9,405.4 217.3,404.1 217.6,407.8 217.9,402.7 218.2,407.7 218.6,408.4 218.9,403.8 219.2,404.5 219.6,404.6 219.9,408.4 220.2,403.0 220.6,408.8 220.9,402.3 221.2,401.8 221.5,407.9 221.9,402.2 222.2,406.1 222.5,405.6 222.9,408.5 223.2,406.9 223.5,409.2 223.9,407.0 224.2,404.3 224.5,408.7 224.8,402.5 225.2,406.8 225.5,402.2 225.8,403.0 226.2,404.4 226.5,405.1 226.8,401.6 227.2,404.3 227.5,405.3 227.8,403.4 228.1,404.3 228.5,407.4 228.8,402.9 229.1,404.0 229.5,403.9 229.8,403.5 230.1,402.0 230.5,409.2 230.8,405.9 231.1,404.8 231.4,409.0 231.8,402.4 232.1,402.6 232.4,401.9 232.8,401.8 233.1,401.6 233.4,406.1 233.8,407.0 234.1,404.3 234.4,408.6 234.7,407.4 235.1,409.2 235.4,407.4 235.7,405.2 236.1,401.5 236.4,402.1 236.7,403.6 237.1,402.4 237.4,406.2 237.7,401.8 238.0,405.6 238.4,404.5 238.7,404.7 239.0,402.0 239.4,406.8 239.7,407.2 240.0,403.8 240.4,404.3 240.7,406.6 241.0,402.4 241.3,406.0 241.7,403.9 242.0,406.4 242.3,406.0 242.7,403.4 243.0,402.9 243.3,403.5 243.7,402.7 244.0,406.4 244.3,406.8 244.6,404.7 245.0,402.6 245.3,404.5 245.6,406.6 246.0,404.9 246.3,400.8 246.6,401.5 247.0,404.0 247.3,407.4 247.6,404.3 247.9,406.0 248.3,405.4 248.6,401.8 248.9,405.0 249.3,404.4 249.6,404.5 249.9,408.0 250.3,403.5 250.6,408.6 250.9,404.9 251.2,404.9 251.6,406.5 251.9,404.8 252.2,401.7 252.6,405.5 252.9,401.8 253.2,408.5 253.6,403.9 253.9,408.6 254.2,405.6 254.5,407.3 254.9,405.2 255.2,402.9 255.5,409.0 255.9,406.3 256.2,405.1 256.5,409.0 256.9,406.1 257.2,405.2 257.5,403.8 257.8,404.7 258.2,408.4 258.5,403.5 258.8,405.7 259.2,407.0 259.5,405.8 259.8,405.6 260.2,402.9 260.5,409.0 260.8,403.2 261.1,406.0 261.5,403.4 261.8,405.2 262.1,408.6 262.5,409.8 262.8,403.1 263.1,404.8 263.5,407.7 263.8,405.3 264.1,410.1 264.4,403.7 264.8,403.5 265.1,408.2 265.4,408.0 265.8,410.0 266.1,403.5 266.4,402.8 266.8,403.3 267.1,409.2 267.4,405.5 267.7,405.5 268.1,404.2 268.4,403.8 268.7,403.1 269.1,407.9 269.4,402.4 269.7,407.8 270.1,405.9 270.4,403.2 270.7,403.5 271.0,401.8 271.4,408.2 271.7,406.5 272.0,407.6 272.4,406.0 272.7,402.3 273.0,407.2 273.4,408.6 273.7,403.6 274.0,404.7 274.3,409.2 274.7,406.0 275.0,402.1 275.3,402.4 275.7,403.4 276.0,408.7 276.3,407.7 276.7,401.7 277.0,405.9 277.3,403.3 277.6,403.8 278.0,406.1 278.3,403.7 278.6,407.8 279.0,402.9 279.3,403.0 279.6,405.2 280.0,404.0 280.3,409.6 280.6,408.6 280.9,407.0 281.3,408.2 281.6,402.7 281.9,404.0 282.3,405.4 282.6,406.4 282.9,403.0 283.3,399.3 283.6,397.2 283.9,400.8 284.2,398.0 284.6,400.2 284.9,394.8 285.2,401.1 285.6,396.9 285.9,400.4 286.2,402.3 286.6,400.8 286.9,407.7 287.2,404.1 287.5,401.6 287.9,406.7 288.2,404.1 288.5,406.1 288.9,406.6 289.2,409.0 289.5,405.8 289.9,406.5 290.2,409.1 290.5,404.5 290.8,404.7 291.2,407.5 291.5,406.8 291.8,404.5 292.2,409.3 292.5,409.8 292.8,409.9 293.2,407.6 293.5,408.6 293.8,409.2 294.1,406.8 294.5,409.1 294.8,406.2 295.1,404.1 295.5,405.6 295.8,402.6 296.1,408.8 296.5,402.8 296.8,404.1 297.1,402.3 297.4,407.3 297.8,406.5 298.1,406.7 298.4,406.6 298.8,403.9 299.1,399.1 299.4,393.2 299.8,384.0 300.1,365.5 300.4,351.1 300.7,340.2 301.1,328.7 301.4,325.4 301.7,317.6 302.1,314.6 302.4,316.7 302.7,318.3 303.1,326.1 303.4,333.4 303.7,350.4 304.0,363.4 304.4,376.4 304.7,392.7 305.0,400.9 305.4,402.8 305.7,400.5 306.0,404.8 306.4,406.5 306.7,404.7 307.0,402.6 307.3,404.1 307.7,408.3 308.0,402.3 308.3,402.4 308.7,407.3 309.0,408.3 309.3,406.7 309.7,408.9 310.0,405.9 310.3,407.1 310.6,405.5 311.0,408.3 311.3,402.9 311.6,405.8 312.0,405.8 312.3,403.9 312.6,406.8 313.0,408.6 313.3,403.9 313.6,410.5 313.9,404.4 314.3,409.6 314.6,402.8 314.9,406.7 315.3,403.3 315.6,405.0 315.9,408.7 316.3,406.8 316.6,408.8 316.9,405.8 317.2,403.0 317.6,402.9 317.9,406.4 318.2,409.6 318.6,409.9 318.9,408.0 319.2,403.1 319.6,403.9 319.9,407.5 320.2,407.3 320.5,409.6 320.9,406.4 321.2,405.0 321.5,403.9 321.9,408.8 322.2,409.8 322.5,408.1 322.9,403.9 323.2,407.2 323.5,409.5 323.8,406.4 324.2,402.9 324.5,404.9 324.8,407.7 325.2,403.4 325.5,405.2 325.8,410.1 326.2,403.6 326.5,406.0 326.8,407.7 327.1,404.5 327.5,409.2 327.8,404.4 328.1,407.6 328.5,403.4 328.8,410.8 329.1,407.2 329.5,405.0 329.8,404.4 330.1,403.7 330.4,405.5 330.8,409.8 331.1,405.3 331.4,410.6 331.8,410.9 332.1,407.8 332.4,404.3 332.8,406.0 333.1,408.8 333.4,406.2 333.7,408.2 334.1,408.6 334.4,404.5 334.7,405.3 335.1,408.2 335.4,407.1 335.7,407.2 336.1,404.4 336.4,410.3 336.7,403.7 337.0,409.1 337.4,405.6 337.7,409.3 338.0,405.9 338.4,409.5 338.7,408.0 339.0,410.7 339.4,408.8 339.7,410.4 340.0,406.3 340.3,408.9 340.7,408.7 341.0,404.8 341.3,409.1 341.7,407.5 342.0,410.3 342.3,407.1 342.7,409.8 343.0,405.4 343.3,406.0 343.6,407.5 344.0,403.7 344.3,406.6 344.6,409.8 345.0,407.9 345.3,410.1 345.6,410.1 346.0,404.0 346.3,405.1 346.6,408.7 346.9,406.4 347.3,409.1 347.6,406.8 347.9,404.9 348.3,405.6 348.6,407.7 348.9,410.4 349.3,404.1 349.6,407.8 349.9,408.3 350.2,410.7 350.6,404.1 350.9,406.7 351.2,409.1 351.6,405.4 351.9,409.0 352.2,406.0 352.6,407.9 352.9,408.3 353.2,404.6 353.5,407.9 353.9,407.4 354.2,405.0 354.5,403.3 354.9,409.0 355.2,406.7 355.5,407.1 355.9,405.9 356.2,405.7 356.5,407.2 356.8,407.1 357.2,405.5 357.5,406.9 357.8,404.9 358.2,405.6 358.5,405.1 358.8,402.5 359.2,402.8 359.5,409.3 359.8,406.0 360.1,403.5 360.5,407.2 360.8,408.9 361.1,405.4 361.5,405.7 361.8,409.4 362.1,409.4 362.5,408.9 362.8,406.1 363.1,405.4 363.4,403.1 363.8,407.9 364.1,404.0 364.4,408.3 364.8,408.8 365.1,405.6 365.4,406.1 365.8,405.4 366.1,400.3 366.4,396.6 366.7,389.2 367.1,381.1 367.4,369.6 367.7,355.4 368.1,342.6 368.4,329.9 368.7,327.1 369.1,325.3 369.4,326.6 369.7,328.7 370.0,329.3 370.4,338.5 370.7,346.2 371.0,357.5 371.4,369.5 371.7,383.3 372.0,393.6 372.4,401.4 372.7,405.4 373.0,403.4 373.3,402.9 373.7,404.9 374.0,404.0 374.3,403.1 374.7,406.9 375.0,403.3 375.3,406.7 375.7,405.5 376.0,402.0 376.3,404.4 376.6,397.0 377.0,394.3 377.3,382.4 377.6,364.7 378.0,353.4 378.3,339.2 378.6,331.8 379.0,322.6 379.3,320.2 379.6,323.0 379.9,325.1 380.3,323.6 380.6,332.7 380.9,344.0 381.3,357.5 381.6,368.6 381.9,385.4 382.3,395.6 382.6,401.0 382.9,401.0 383.2,401.1 383.6,402.2 383.9,408.2 384.2,401.9 384.6,404.9 384.9,408.1 385.2,403.5 385.6,402.9 385.9,403.8 386.2,407.6 386.5,406.9 386.9,402.9 387.2,403.6 387.5,407.0 387.9,406.7 388.2,408.1 388.5,404.5 388.9,406.9 389.2,409.0 389.5,410.1 389.8,408.4 390.2,409.2 390.5,403.8 390.8,405.1 391.2,407.8 391.5,403.9 391.8,399.5 392.2,400.7 392.5,398.9 392.8,404.1 393.1,399.6 393.5,402.2 393.8,403.5 394.1,405.0 394.5,408.6 394.8,403.5 395.1,404.6 395.5,405.0 395.8,406.8 396.1,410.2 396.4,408.9 396.8,406.9 397.1,406.3 397.4,410.0 397.8,408.8 398.1,409.1 398.4,410.8 398.8,404.4 399.1,410.1 399.4,411.4 399.7,407.7 400.1,404.6 400.4,404.8 400.7,411.1 401.1,405.7 401.4,410.3 401.7,410.3 402.1,407.5 402.4,406.2 402.7,405.2 403.0,406.6 403.4,409.0 403.7,410.6 404.0,407.9 404.4,405.0 404.7,410.3 405.0,407.8 405.4,407.4 405.7,409.5 406.0,404.2 406.3,405.4 406.7,404.2 407.0,405.9 407.3,407.5 407.7,405.3 408.0,403.9 408.3,403.9 408.7,405.0 409.0,404.4 409.3,401.1 409.6,402.1 410.0,401.9 410.3,398.6 410.6,399.6 411.0,397.2 411.3,398.9 411.6,399.9 412.0,403.3 412.3,405.8 412.6,403.7 412.9,407.7 413.3,405.2 413.6,410.2 413.9,404.7 414.3,408.1 414.6,405.5 414.9,406.3 415.3,407.1 415.6,405.8 415.9,408.1 416.2,411.0 416.6,411.9 416.9,405.3 417.2,405.2 417.6,407.4 417.9,411.5 418.2,409.7 418.6,407.0 418.9,411.3 419.2,411.0 419.5,407.2 419.9,411.5 420.2,410.2 420.5,409.5 420.9,410.3 421.2,411.6 421.5,409.9 421.9,409.6 422.2,408.1 422.5,412.1 422.8,407.0 423.2,411.7 423.5,406.8 423.8,406.9 424.2,406.9 424.5,411.8 424.8,410.6 425.2,406.8 425.5,406.2 425.8,410.2 426.1,405.9 426.5,411.9 426.8,405.9 427.1,410.0 427.5,406.6 427.8,409.8 428.1,411.7 428.5,411.2 428.8,409.6 429.1,408.7 429.4,408.0 429.8,409.9 430.1,410.7 430.4,409.7 430.8,408.5 431.1,410.7 431.4,407.6 431.8,407.0 432.1,405.5 432.4,406.4 432.7,412.3 433.1,409.7 433.4,407.7 433.7,412.3 434.1,405.5 434.4,407.4 434.7,408.3 435.1,406.8 435.4,411.0 435.7,406.4 436.0,408.0 436.4,411.7 436.7,408.0 437.0,405.9 437.4,408.8 437.7,410.9 438.0,407.0 438.4,404.6 438.7,407.1 439.0,409.9 439.3,405.0 439.7,406.3 440.0,405.4 440.3,410.8 440.7,410.6 441.0,405.2 441.3,405.0 441.7,405.9 442.0,409.9 442.3,404.8 442.6,408.4 443.0,409.5 443.3,411.4 443.6,411.6 444.0,407.7 444.3,410.9 444.6,412.0 445.0,412.4 445.3,411.4 445.6,409.4 445.9,405.6 446.3,409.1 446.6,405.0 446.9,411.1 447.3,406.5 447.6,408.4 447.9,405.9 448.3,410.8 448.6,408.2 448.9,407.7 449.2,405.1 449.6,409.7 449.9,404.5 450.2,406.3 450.6,410.3 450.9,407.3 451.2,406.3 451.6,409.8 451.9,404.7 452.2,409.8 452.5,403.2 452.9,400.1 453.2,401.7 453.5,391.3 453.9,394.6 454.2,390.3 454.5,391.3 454.9,388.4 455.2,388.0 455.5,391.2 455.8,392.5 456.2,394.7 456.5,400.8 456.8,405.8 457.2,404.3 457.5,404.1 457.8,409.2 458.2,404.1 458.5,410.8 458.8,404.6 459.1,406.2 459.5,408.0 459.8,406.7 460.1,408.7 460.5,410.6 460.8,408.4 461.1,408.3 461.5,409.5 461.8,407.2 462.1,407.7 462.4,407.7 462.8,407.0 463.1,409.0 463.4,412.5 463.8,409.7 464.1,406.1 464.4,407.0 464.8,408.8 465.1,406.0 465.4,410.3 465.7,410.5 466.1,409.9 466.4,409.6 466.7,407.6 467.1,408.7 467.4,407.9 467.7,409.4 468.1,412.3 468.4,408.4 468.7,411.0 469.0,408.7 469.4,409.3 469.7,412.8 470.0,407.9 470.4,412.5 470.7,406.7 471.0,411.5 471.4,408.5 471.7,412.4 472.0,406.2 472.3,411.7 472.7,412.2 473.0,413.3 473.3,411.3 473.7,407.3 474.0,410.9 474.3,407.8 474.7,413.0 475.0,411.6 475.3,409.7 475.6,406.1 476.0,408.4 476.3,410.3 476.6,412.7 477.0,407.0 477.3,407.9 477.6,411.0 478.0,412.8 478.3,413.1 478.6,407.6 478.9,411.2 479.3,406.7 479.6,405.9 479.9,410.0 480.3,408.3 480.6,409.8 480.9,407.7 481.3,405.2 481.6,406.8 481.9,405.4 482.2,411.6 482.6,406.2 482.9,406.8 483.2,406.0 483.6,411.8 483.9,410.2 484.2,407.1 484.6,407.3 484.9,407.4 485.2,407.2 485.5,409.4 485.9,413.3 486.2,413.3 486.5,413.7 486.9,407.3 487.2,412.3 487.5,408.9 487.9,410.4 488.2,408.6 488.5,411.4 488.8,408.8 489.2,413.0 489.5,407.9 489.8,409.2 490.2,412.0 490.5,406.9 490.8,406.4 491.2,406.6 491.5,410.9 491.8,412.8 492.1,408.9 492.5,408.8 492.8,406.1 493.1,406.1 493.5,407.3 493.8,409.7 494.1,408.3 494.5,408.6 494.8,410.5 495.1,412.8 495.4,407.2 495.8,407.8 496.1,408.5 496.4,413.2 496.8,410.1 497.1,413.5 497.4,410.6 497.8,408.0 498.1,411.7 498.4,407.8 498.7,412.4 499.1,407.7 499.4,408.0 499.7,412.8 500.1,412.4 500.4,410.8 500.7,409.4 501.1,411.0 501.4,407.4 501.7,405.7 502.0,408.1 502.4,410.3 502.7,407.0 503.0,410.9 503.4,412.0 503.7,408.2 504.0,407.7 504.4,406.0 504.7,411.0 505.0,407.8 505.3,412.5 505.7,408.7 506.0,409.4 506.3,407.6 506.7,409.1 507.0,410.8 507.3,407.2 507.7,409.9 508.0,413.0 508.3,408.4 508.6,406.9 509.0,412.3 509.3,405.8 509.6,412.5 510.0,412.0 510.3,406.9 510.6,407.6 511.0,404.1 511.3,405.4 511.6,396.9 511.9,397.3 512.3,385.4 512.6,386.1 512.9,376.6 513.3,375.3 513.6,372.4 513.9,376.4 514.3,376.8 514.6,388.4 514.9,394.0 515.2,401.3 515.6,402.1 515.9,406.2 516.2,406.8 516.6,411.3 516.9,408.5 517.2,410.6 517.6,407.2 517.9,410.4 518.2,410.8 518.5,408.6 518.9,407.0 519.2,406.6 519.5,411.7 519.9,412.6 520.2,407.0 520.5,409.5 520.9,410.3 521.2,406.2 521.5,411.9 521.8,406.8 522.2,410.2 522.5,409.1 522.8,410.6 523.2,409.7 523.5,406.5 523.8,406.1 524.2,410.9 524.5,412.4 524.8,409.5 525.1,412.9 525.5,413.8 525.8,410.4 526.1,408.4 526.5,407.5 526.8,410.4 527.1,412.8 527.5,406.1 527.8,409.6 528.1,413.1 528.4,410.9 528.8,409.3 529.1,404.8 529.4,402.0 529.8,406.6 530.1,406.0 530.4,400.4 530.8,400.2 531.1,401.1 531.4,404.9 531.7,405.8 532.1,405.6 532.4,411.3 532.7,410.4 533.1,409.2 533.4,406.9 533.7,406.4 534.1,409.4 534.4,412.5 534.7,410.6 535.0,412.7 535.4,407.8 535.7,408.7 536.0,409.4 536.4,407.4 536.7,410.3 537.0,406.9 537.4,409.9 537.7,409.7 538.0,408.3 538.3,406.4 538.7,408.0 539.0,408.6 539.3,407.6 539.7,408.3 540.0,407.8 540.3,408.0 540.7,406.9 541.0,405.8 541.3,405.8 541.6,408.0 542.0,410.0 542.3,406.8 542.6,404.7 543.0,406.1 543.3,400.8 543.6,398.6 544.0,399.1 544.3,393.6 544.6,391.3 544.9,390.6 545.3,393.2 545.6,397.3 545.9,396.0 546.3,401.1 546.6,398.3 546.9,408.7 547.3,407.2 547.6,411.0 547.9,412.6 548.2,409.9 548.6,412.1 548.9,406.3 549.2,412.3 549.6,407.0 549.9,406.1 550.2,408.3 550.6,409.6 550.9,410.8 551.2,407.4 551.5,410.7 551.9,406.2 552.2,413.1 552.5,412.8 552.9,408.9 553.2,408.2 553.5,409.2 553.9,412.7 554.2,410.6 554.5,411.5 554.8,410.7 555.2,413.3 555.5,406.5 555.8,412.5 556.2,408.3 556.5,406.4 556.8,408.3 557.2,406.6 557.5,411.8 557.8,411.0 558.1,409.7 558.5,412.2 558.8,408.6 559.1,410.1 559.5,410.6 559.8,410.1 560.1,407.8 560.5,412.1 560.8,408.3 561.1,407.1 561.4,408.1 561.8,409.1 562.1,411.6 562.4,410.4 562.8,413.3 563.1,410.3 563.4,408.8 563.8,413.2 564.1,406.4 564.4,407.7 564.7,411.9 565.1,408.3 565.4,413.0 565.7,406.5 566.1,406.6 566.4,408.6 566.7,411.3 567.1,412.5 567.4,407.9 567.7,408.8 568.0,412.0 568.4,410.8 568.7,410.1 569.0,411.1 569.4,410.1 569.7,406.6 570.0,406.6 570.4,409.3 570.7,406.0 571.0,408.5 571.3,409.6 571.7,413.5 572.0,410.5 572.3,407.4 572.7,409.8 573.0,409.7 573.3,411.4 573.7,411.7 574.0,408.6 574.3,412.5 574.6,410.2 575.0,407.1 575.3,410.3 575.6,408.0 576.0,411.6 576.3,411.8 576.6,411.2 577.0,408.7 577.3,407.9 577.6,406.5 577.9,408.0 578.3,408.9 578.6,404.7 578.9,409.6 579.3,405.8 579.6,402.9 579.9,404.2 580.3,403.3 580.6,404.3 580.9,405.3 581.2,405.3 581.6,404.5 581.9,411.1 582.2,410.2 582.6,409.7 582.9,410.7 583.2,409.9 583.6,409.5 583.9,407.0 584.2,409.7 584.5,409.0 584.9,411.1 585.2,411.0 585.5,409.6 585.9,408.3 586.2,404.9 586.5,410.9 586.9,406.9 587.2,408.4 587.5,398.5 587.8,394.0 588.2,393.7 588.5,385.3 588.8,390.1 589.2,382.0 589.5,388.2 589.8,389.2 590.2,390.9 590.5,394.6 590.8,399.8 591.1,405.2 591.5,408.2 591.8,406.7 592.1,404.7 592.5,410.3 592.8,407.1 593.1,408.8 593.5,407.5 593.8,406.8 594.1,406.6 594.4,410.3 594.8,409.5 595.1,406.8 595.4,410.8 595.8,411.2 596.1,410.4 596.4,409.3 596.8,411.2 597.1,406.0 597.4,407.6 597.7,404.9 598.1,402.9 598.4,399.3 598.7,397.5 599.1,395.5 599.4,398.1 599.7,400.9 600.1,400.8 600.4,405.6 600.7,401.2 601.0,406.1 601.4,404.2 601.7,411.4 602.0,406.6 602.4,407.3 602.7,410.7 603.0,411.5 603.4,412.4 603.7,408.7 604.0,407.1 604.3,412.6 604.7,410.4 605.0,412.9 605.3,407.5 605.7,412.4 606.0,412.4 606.3,413.5 606.7,408.8 607.0,409.3 607.3,411.2 607.6,408.3 608.0,411.8 608.3,413.1 608.6,410.0 609.0,410.4 609.3,407.8 609.6,407.5 610.0,407.6 610.3,408.0 610.6,411.9 610.9,412.0 611.3,408.0 611.6,409.2 611.9,413.5 612.3,409.3 612.6,409.3 612.9,412.6 613.3,412.1 613.6,409.3 613.9,412.1 614.2,408.6 614.6,406.6 614.9,408.5 615.2,413.1 615.6,406.8 615.9,412.0 616.2,409.7 616.6,407.7 616.9,408.3 617.2,412.8 617.5,412.1 617.9,410.6 618.2,411.9 618.5,412.4 618.9,408.8 619.2,408.8 619.5,407.4 619.9,406.0 620.2,410.1 620.5,406.3 620.8,411.2 621.2,410.9 621.5,413.2 621.8,408.9 622.2,412.5 622.5,410.1 622.8,407.7 623.2,411.1 623.5,410.8 623.8,413.9 624.1,412.0 624.5,411.7 624.8,408.4 625.1,412.8 625.5,405.8 625.8,408.8 626.1,412.3 626.5,405.6 626.8,408.8 627.1,411.1 627.4,405.7 627.8,408.0 628.1,410.5 628.4,407.9 628.8,411.0 629.1,408.3 629.4,410.8 629.8,409.8 630.1,406.7 630.4,410.1 630.7,409.5 631.1,408.3 631.4,411.9 631.7,409.9 632.1,410.0 632.4,405.1 632.7,405.6 633.1,402.0 633.4,400.8 633.7,390.3 634.0,386.4 634.4,382.5 634.7,379.8 635.0,381.2 635.4,377.7 635.7,380.5 636.0,382.2 636.4,392.3 636.7,394.2 637.0,399.8 637.3,403.2 637.7,406.3 638.0,409.8 638.3,409.0 638.7,408.0 639.0,411.3 639.3,409.7 639.7,412.4 640.0,410.2 640.3,405.7 640.6,411.0 641.0,409.2 641.3,412.1 641.6,412.2 642.0,409.6 642.3,410.8 642.6,410.8 643.0,408.8 643.3,413.4 643.6,406.6 643.9,406.7 644.3,410.6 644.6,410.1 644.9,408.9 645.3,413.0 645.6,411.7 645.9,413.4 646.3,413.4 646.6,412.5 646.9,408.0 647.2,410.4 647.6,411.5 647.9,412.5 648.2,409.9 648.6,407.4 648.9,407.3 649.2,410.1 649.6,412.9 649.9,413.2 650.2,410.3 650.5,410.8 650.9,412.9 651.2,410.6 651.5,410.6 651.9,406.9 652.2,410.2 652.5,412.6 652.9,410.1 653.2,407.8 653.5,406.0 653.8,411.0 654.2,405.0 654.5,409.0 654.8,401.5 655.2,402.6 655.5,406.2 655.8,404.0 656.2,399.8 656.5,401.6 656.8,406.5 657.1,408.8 657.5,408.1 657.8,405.8 658.1,405.9 658.5,413.4 658.8,412.2 659.1,412.7 659.5,411.6 659.8,408.8 660.1,407.3 660.4,412.6 660.8,410.8 661.1,406.9 661.4,412.5 661.8,410.4 662.1,411.5 662.4,406.4 662.8,410.9 663.1,409.0 663.4,409.6 663.7,410.5 664.1,410.9 664.4,412.2 664.7,412.2 665.1,407.5 665.4,413.4 665.7,412.7 666.1,407.2 666.4,411.1 666.7,408.9 667.0,412.7 667.4,409.8 667.7,410.1 668.0,411.0 668.4,406.4 668.7,408.8 669.0,407.1 669.4,406.9 669.7,407.3 670.0,413.5 670.3,410.0 670.7,410.6 671.0,411.6 671.3,406.5 671.7,412.1 672.0,413.2 672.3,409.9 672.7,412.6 673.0,409.1 673.3,409.2 673.6,409.2 674.0,409.3 674.3,412.8 674.6,413.2 675.0,412.0 675.3,409.9 675.6,414.7 676.0,408.7 676.3,413.8 676.6,413.6 676.9,412.5 677.3,413.8 677.6,406.8 677.9,413.6 678.3,411.0 678.6,413.5 678.9,408.4 679.3,413.4 679.6,413.8 679.9,409.3 680.2,408.4 680.6,412.7 680.9,412.2 681.2,407.0 681.6,411.7 681.9,410.1 682.2,408.7 682.6,409.5 682.9,412.7 683.2,407.3 683.5,410.7 683.9,409.7 684.2,409.6 684.5,406.2 684.9,406.2 685.2,407.1 685.5,413.3 685.9,412.3 686.2,408.5 686.5,408.4 686.8,410.4 687.2,412.8 687.5,410.1 687.8,407.5 688.2,413.2 688.5,408.2 688.8,412.4 689.2,413.7 689.5,412.5 689.8,412.1 690.1,410.5 690.5,411.0 690.8,410.2 691.1,406.9 691.5,407.2 691.8,411.6 692.1,407.7 692.5,410.1 692.8,414.0 693.1,413.8 693.4,413.8 693.8,411.4 694.1,409.7 694.4,410.8 694.8,411.5 695.1,410.0 695.4,407.9 695.8,407.5 696.1,407.7 696.4,412.1 696.7,412.6 697.1,407.5 697.4,410.8 697.7,409.2 698.1,412.8 698.4,409.6 698.7,413.5 699.1,408.5 699.4,408.2 699.7,413.6 700.0,410.2 700.4,412.4 700.7,412.1 701.0,412.7 701.4,411.8 701.7,413.4 702.0,407.5 702.4,409.8 702.7,407.3 703.0,407.9 703.3,408.1 703.7,407.8 704.0,408.6 704.3,413.2 704.7,412.6 705.0,410.1 705.3,413.2 705.7,412.8 706.0,408.3 706.3,409.6 706.6,411.0 707.0,412.6 707.3,408.4 707.6,407.5 708.0,408.1 708.3,413.6 708.6,409.0 709.0,406.4 709.3,411.4 709.6,408.8 709.9,411.7 710.3,410.9 710.6,407.4 710.9,407.0 711.3,406.3 711.6,407.8 711.9,407.9 712.3,407.1 712.6,410.8 712.9,407.8 713.2,408.5 713.6,410.0 713.9,408.3 714.2,412.0 714.6,407.2 714.9,413.6 715.2,413.1 715.6,409.3 715.9,408.0 716.2,406.5 716.5,409.3 716.9,407.2 717.2,410.6 717.5,408.2 717.9,412.4 718.2,408.7 718.5,411.9 718.9,411.5 719.2,407.3 719.5,406.5 719.8,407.6 720.2,410.3 720.5,412.4 720.8,411.4 721.2,406.7 721.5,410.8 721.8,408.5 722.2,411.1 722.5,413.7 722.8,413.0 723.1,411.9 723.5,411.0 723.8,409.4 724.1,413.0 724.5,407.5 724.8,407.9 725.1,411.1 725.5,406.8 725.8,408.4 726.1,406.8 726.4,405.8 726.8,411.1 727.1,410.9 727.4,410.9 727.8,410.0 728.1,402.5 728.4,404.3 728.8,403.3 729.1,399.8 729.4,400.6 729.7,400.8 730.1,393.8 730.4,394.0 730.7,395.1 731.1,394.1 731.4,394.9 731.7,396.1 732.1,403.0 732.4,403.2 732.7,404.0 733.0,406.4 733.4,410.3 733.7,410.6 734.0,408.1 734.4,409.9 734.7,409.0 735.0,406.8 735.4,412.1 735.7,408.1 736.0,407.6 736.3,410.2 736.7,413.3 737.0,407.2 737.3,412.4 737.7,409.2 738.0,407.1 738.3,407.8 738.7,411.2 739.0,413.2 739.3,412.4 739.6,413.3 740.0,413.2 740.3,406.9 740.6,406.4 741.0,407.5 741.3,408.3 741.6,412.2 742.0,408.0 742.3,409.5 742.6,407.3 742.9,410.3 743.3,411.8 743.6,409.0 743.9,411.6 744.3,411.0 744.6,410.9 744.9,411.1 745.3,407.8 745.6,411.7 745.9,412.9 746.2,408.2 746.6,406.0 746.9,410.9 747.2,412.0 747.6,405.9 747.9,411.0 748.2,406.5 748.6,407.8 748.9,410.1 749.2,406.7 749.5,411.1 749.9,411.8 750.2,407.3 750.5,409.8 750.9,410.8 751.2,407.4 751.5,410.5 751.9,412.1 752.2,411.2 752.5,406.8 752.8,411.6 753.2,410.0 753.5,406.6 753.8,406.3 754.2,405.5 754.5,411.8 754.8,412.5 755.2,411.3 755.5,408.6 755.8,410.8 756.1,407.6 756.5,410.3 756.8,406.2 757.1,407.3 757.5,409.4 757.8,410.0 758.1,412.9 758.5,406.2 758.8,411.6 759.1,410.1 759.4,408.8 759.8,406.7 760.1,406.4 760.4,410.2 760.8,407.6 761.1,407.7 761.4,409.6 761.8,406.5 762.1,410.0 762.4,407.9 762.7,408.8 763.1,408.2 763.4,408.3 763.7,407.7 764.1,408.5 764.4,409.0 764.7,410.0 765.1,408.2 765.4,411.8 765.7,412.4 766.0,408.1 766.4,405.4 766.7,411.8 767.0,405.5 767.4,409.5 767.7,407.3 768.0,407.3 768.4,411.9 768.7,407.4 769.0,406.6 769.3,409.3 769.7,411.6 770.0,410.1 770.3,408.3 770.7,407.6 771.0,410.0 771.3,408.1 771.7,410.9 772.0,410.3 772.3,411.7 772.6,408.3 773.0,407.7 773.3,411.4 773.6,410.3 774.0,411.9 774.3,406.8 774.6,409.4 775.0,410.3 775.3,410.7 775.6,406.3 775.9,409.7 776.3,408.0 776.6,409.6 776.9,409.3 777.3,409.5 777.6,410.1 777.9,409.3 778.3,410.8 778.6,407.2 778.9,407.4 779.2,408.5 779.6,408.7 779.9,412.9 780.2,408.4 780.6,412.9 780.9,411.9 781.2,410.1 781.6,412.1 781.9,408.3 782.2,406.3 782.5,407.8 782.9,406.1 783.2,407.9 783.5,409.9 783.9,407.4 784.2,407.2 784.5,411.0 784.9,405.7 785.2,407.2 785.5,405.4 785.8,408.2 786.2,412.7 786.5,407.0 786.8,407.7 787.2,406.2 787.5,412.2 787.8,405.5 788.2,408.9 788.5,410.9 788.8,411.7 789.1,406.1 789.5,412.4 789.8,410.1 790.1,405.5 790.5,412.3 790.8,411.0 791.1,408.8 791.5,410.5 791.8,408.4 792.1,411.9 792.4,406.7 792.8,408.5 793.1,410.1 793.4,411.0 793.8,406.6 794.1,408.8 794.4,409.1 794.8,411.6 795.1,406.6 795.4,411.3 795.7,409.0 796.1,409.4 796.4,405.0 796.7,411.0 797.1,406.7 797.4,406.6 797.7,409.7 798.1,405.4 798.4,403.7 798.7,399.7 799.0,404.3 799.4,401.9 799.7,400.4 800.0,399.7 800.4,398.5 800.7,398.5 801.0,403.5 801.4,406.7 801.7,401.2 802.0,401.4 802.3,402.4 802.7,406.3 803.0,404.8 803.3,405.9 803.7,407.9 804.0,408.4 804.3,409.5 804.7,411.0 805.0,408.5 805.3,411.8 805.6,408.3 806.0,410.4 806.3,407.0 806.6,409.8 807.0,411.6 807.3,408.4 807.6,408.1 808.0,406.1 808.3,408.9 808.6,411.3 808.9,410.9 809.3,411.7 809.6,410.2 809.9,413.5 810.3,409.1 810.6,408.8 810.9,412.9 811.3,407.6 811.6,409.1 811.9,413.6 812.2,413.4 812.6,409.6 812.9,409.6 813.2,412.5 813.6,409.1 813.9,406.2 814.2,407.4 814.6,413.0 814.9,412.2 815.2,412.2 815.5,410.7 815.9,407.7 816.2,410.3 816.5,412.6 816.9,410.1 817.2,407.5 817.5,407.7 817.9,407.8 818.2,412.2 818.5,405.2 818.8,410.7 819.2,408.5 819.5,407.4 819.8,406.5 820.2,412.1 820.5,408.1 820.8,412.6 821.2,408.5 821.5,412.2 821.8,408.9 822.1,406.6 822.5,410.1 822.8,405.6 823.1,409.0 823.5,406.9 823.8,404.0 824.1,405.1 824.5,403.8 824.8,401.1 825.1,408.0 825.4,401.5 825.8,404.8 826.1,407.2 826.4,407.6 826.8,404.8 827.1,408.1 827.4,405.4 827.8,407.8 828.1,406.7 828.4,410.2 828.7,407.3 829.1,410.9 829.4,410.3 829.7,408.1 830.1,407.5 830.4,412.0 830.7,411.8 831.1,412.6 831.4,410.4 831.7,412.2 832.0,406.5 832.4,408.0 832.7,411.0 833.0,406.3 833.4,410.4 833.7,407.1 834.0,411.4 834.4,410.5 834.7,409.4 835.0,411.6 835.3,406.7 835.7,411.8 836.0,408.5 836.3,411.2 836.7,406.2 837.0,409.9 837.3,411.5 837.7,411.6 838.0,407.6 838.3,408.6 838.6,408.8 839.0,412.2 839.3,409.2 839.6,408.9 840.0,412.7 840.3,408.2 840.6,410.6 841.0,412.2 841.3,411.6 841.6,406.3 841.9,413.0 842.3,405.7 842.6,409.4 842.9,411.4 843.3,406.8 843.6,407.5 843.9,412.5 844.3,408.5 844.6,410.3 844.9,411.1 845.2,408.9 845.6,412.9 845.9,410.8 846.2,410.9 846.6,409.0 846.9,406.2 847.2,410.9 847.6,406.3 847.9,411.3 848.2,411.2 848.5,405.7 848.9,407.9 849.2,407.8 849.5,407.8 849.9,409.9 850.2,412.7 850.5,406.1 850.9,411.7 851.2,405.5 851.5,412.7 851.8,409.8 852.2,408.7 852.5,407.2 852.8,407.6 853.2,412.8 853.5,408.0 853.8,406.1 854.2,407.3 854.5,412.5 854.8,410.5 855.1,406.4 855.5,409.1 855.8,412.8 856.1,408.5 856.5,410.8 856.8,410.2 857.1,406.4 857.5,410.4 857.8,409.2 858.1,412.2 858.4,407.8 858.8,410.6 859.1,409.1 859.4,407.2 859.8,408.1 860.1,409.7 860.4,411.3 860.8,412.2 861.1,408.2 861.4,405.4 861.7,409.0 862.1,408.8 862.4,411.0 862.7,406.9 863.1,409.6 863.4,412.6 863.7,408.4 864.1,412.0 864.4,408.5 864.7,406.5 865.0,405.2 865.4,406.4 865.7,406.1 866.0,404.8 866.4,406.3 866.7,407.7 867.0,409.4 867.4,410.6 867.7,409.2 868.0,409.3 868.3,406.9 868.7,407.1 869.0,407.6 869.3,410.1 869.7,410.5 870.0,407.4 870.3,407.0 870.7,406.4 871.0,413.2 871.3,408.2 871.6,411.9 872.0,410.4 872.3,408.0 872.6,412.2 873.0,407.3 873.3,406.3 873.6,409.4 874.0,411.4 874.3,406.1 874.6,409.5 874.9,407.6 875.3,411.9 875.6,405.9 875.9,406.9 876.3,407.8 876.6,409.3 876.9,409.8 877.3,410.8 877.6,406.3 877.9,409.3 878.2,413.2 878.6,409.6 878.9,406.8 879.2,411.1 879.6,409.2 879.9,412.0 880.2,407.1 880.6,413.0 880.9,410.4 881.2,412.9 881.5,408.1 881.9,408.6 882.2,409.7 882.5,409.1 882.9,409.7 883.2,406.9 883.5,411.5 883.9,406.4 884.2,412.2 884.5,408.6 884.8,412.2 885.2,410.3 885.5,412.0 885.8,408.7 886.2,411.1 886.5,407.8 886.8,407.0 887.2,412.7 887.5,406.5 887.8,407.8 888.1,411.4 888.5,410.3 888.8,407.9 889.1,412.7 889.5,410.9 889.8,412.8 890.1,412.8 890.5,408.5 890.8,412.9 891.1,411.6 891.4,408.0 891.8,410.4 892.1,410.7 892.4,412.8 892.8,411.0 893.1,409.1 893.4,411.9 893.8,409.1 894.1,411.0 894.4,406.8 894.7,407.9 895.1,407.6 895.4,411.9 895.7,412.5 896.1,406.2 896.4,408.5 896.7,412.2 897.1,411.6 897.4,407.5 897.7,410.7 898.0,409.4 898.4,412.1 898.7,412.0 899.0,406.9 899.4,411.3 899.7,407.7 900.0,405.9 900.4,411.0 900.7,406.6 901.0,407.4 901.3,407.7 901.7,413.1 902.0,413.2 902.3,412.7 902.7,406.5 903.0,411.9 903.3,411.2 903.7,408.7 904.0,406.8 904.3,409.9 904.6,406.5 905.0,409.4 905.3,412.7 905.6,413.2 906.0,409.0 906.3,409.9 906.6,411.5 907.0,406.1 907.3,408.3 907.6,409.0 907.9,412.0 908.3,410.5 908.6,411.6 908.9,408.2 909.3,413.4 909.6,411.9 909.9,410.5 910.3,412.0 910.6,407.3 910.9,412.5 911.2,408.0 911.6,411.1 911.9,413.3 912.2,410.8 912.6,407.2 912.9,412.2 913.2,410.6 913.6,409.8 913.9,408.3 914.2,411.2 914.5,412.6 914.9,407.5 915.2,409.9 915.5,413.0 915.9,408.2 916.2,409.9 916.5,411.8 916.9,412.0 917.2,410.5 917.5,406.8 917.8,408.7 918.2,409.2 918.5,410.0 918.8,402.7 919.2,405.3 919.5,407.5 919.8,409.9 920.2,409.8 920.5,410.9 920.8,404.0 921.1,406.1 921.5,410.9 921.8,408.5 922.1,405.5 922.5,407.7 922.8,405.5 923.1,406.5 923.5,410.5 923.8,412.5 924.1,408.4 924.4,408.4 924.8,411.7 925.1,413.3 925.4,408.4 925.8,411.8 926.1,407.6 926.4,410.3 926.8,412.9 927.1,407.2 927.4,408.8 927.7,409.8 928.1,410.4 928.4,406.9 928.7,408.2 929.1,407.8 929.4,411.3 929.7,411.5 930.1,413.1 930.4,410.4 930.7,407.9 931.0,414.2 931.4,408.1 931.7,408.1 932.0,411.6 932.4,407.7 932.7,407.5 933.0,406.5 933.4,413.1 933.7,405.9 934.0,411.6 934.3,411.8 934.7,412.4 935.0,408.3 935.3,407.9 935.7,410.2 936.0,412.6 936.3,406.6 936.7,411.2 937.0,410.2 937.3,410.2 937.6,411.5 938.0,408.2 938.3,410.6 938.6,404.6 939.0,404.5 939.3,407.6 939.6,407.6 940.0,404.1 940.3,409.5 940.6,405.1 940.9,409.0 941.3,410.0 941.6,405.1 941.9,406.8 942.3,410.7 942.6,411.5 942.9,406.6 943.3,405.8 943.6,413.1 943.9,409.9 944.2,411.5 944.6,411.2 944.9,412.9 945.2,405.9 945.6,409.6 945.9,412.9 946.2,407.4 946.6,407.0 946.9,409.7 947.2,408.3 947.5,413.3 947.9,410.9 948.2,409.1 948.5,407.8 948.9,409.8 949.2,411.2 949.5,406.7 949.9,410.5 950.2,406.7 950.5,407.7 950.8,406.6 951.2,411.0 951.5,411.8 951.8,408.8 952.2,411.6 952.5,409.4 952.8,411.3 953.2,412.4 953.5,411.9 953.8,413.9 954.1,410.0 954.5,408.2 954.8,413.9 955.1,407.3 955.5,414.2 955.8,408.7" fill="none" stroke="#00ff00" stroke-width="4.2" stroke-linejoin="round"/>
<polyline points="143.0,526.4 143.3,529.8 143.7,531.6 144.0,527.7 144.3,530.6 144.7,529.0 145.0,532.2 145.3,529.7 145.6,532.8 146.0,527.0 146.3,526.0 146.6,527.8 147.0,531.1 147.3,529.4 147.6,532.3 148.0,532.8 148.3,532.3 148.6,526.6 148.9,530.0 149.3,531.1 149.6,532.6 149.9,526.6 150.3,530.4 150.6,526.1 150.9,531.3 151.3,529.7 151.6,526.3 151.9,526.3 152.2,529.3 152.6,529.2 152.9,529.8 153.2,533.0 153.6,533.0 153.9,527.7 154.2,526.4 154.6,528.1 154.9,532.4 155.2,527.9 155.5,526.9 155.9,530.5 156.2,531.2 156.5,527.4 156.9,526.5 157.2,527.3 157.5,527.7 157.9,528.6 158.2,530.1 158.5,532.6 158.8,527.9 159.2,529.5 159.5,529.2 159.8,525.0 160.2,525.5 160.5,525.5 160.8,521.5 161.2,512.9 161.5,511.8 161.8,504.7 162.1,506.2 162.5,502.0 162.8,504.8 163.1,500.0 163.5,502.5 163.8,508.8 164.1,509.7 164.5,514.6 164.8,521.9 165.1,522.4 165.4,525.3 165.8,530.8 166.1,526.0 166.4,525.9 166.8,532.4 167.1,533.3 167.4,531.7 167.8,531.5 168.1,534.0 168.4,531.5 168.7,528.2 169.1,530.2 169.4,530.9 169.7,534.1 170.1,532.3 170.4,528.3 170.7,532.7 171.1,534.2 171.4,528.6 171.7,534.8 172.0,528.5 172.4,533.4 172.7,530.8 173.0,531.6 173.4,529.1 173.7,529.1 174.0,530.0 174.4,534.0 174.7,534.3 175.0,534.0 175.3,530.7 175.7,530.8 176.0,531.8 176.3,529.6 176.7,531.7 177.0,532.7 177.3,530.9 177.7,530.1 178.0,529.7 178.3,532.6 178.6,533.1 179.0,531.6 179.3,529.5 179.6,532.8 180.0,536.5 180.3,533.4 180.6,532.8 181.0,532.4 181.3,531.5 181.6,533.1 181.9,530.2 182.3,535.5 182.6,532.3 182.9,533.8 183.3,529.1 183.6,531.6 183.9,529.7 184.3,529.7 184.6,533.1 184.9,533.4 185.2,533.6 185.6,531.1 185.9,535.3 186.2,534.7 186.6,533.3 186.9,531.8 187.2,534.3 187.6,530.8 187.9,530.5 188.2,528.8 188.5,534.2 188.9,529.8 189.2,531.5 189.5,532.8 189.9,532.7 190.2,535.1 190.5,530.2 190.9,533.8 191.2,533.1 191.5,530.9 191.8,531.4 192.2,532.1 192.5,529.8 192.8,529.3 193.2,530.4 193.5,532.1 193.8,535.7 194.2,531.1 194.5,535.0 194.8,535.3 195.1,530.2 195.5,534.7 195.8,532.2 196.1,532.7 196.5,534.7 196.8,532.5 197.1,533.7 197.5,530.1 197.8,529.5 198.1,535.5 198.4,533.4 198.8,529.5 199.1,535.2 199.4,535.5 199.8,531.8 200.1,535.4 200.4,537.1 200.8,534.2 201.1,536.3 201.4,530.6 201.7,530.4 202.1,532.5 202.4,530.9 202.7,537.4 203.1,530.8 203.4,533.3 203.7,530.4 204.1,530.0 204.4,535.3 204.7,534.8 205.0,532.6 205.4,535.9 205.7,535.2 206.0,533.6 206.4,535.4 206.7,534.3 207.0,530.2 207.4,531.4 207.7,533.6 208.0,531.8 208.3,533.7 208.7,534.5 209.0,531.9 209.3,533.9 209.7,531.5 210.0,534.7 210.3,529.8 210.7,537.1 211.0,533.8 211.3,532.7 211.6,533.3 212.0,531.1 212.3,536.9 212.6,533.7 213.0,533.9 213.3,531.3 213.6,534.1 214.0,532.3 214.3,533.5 214.6,535.6 214.9,535.7 215.3,532.1 215.6,534.0 215.9,537.2 216.3,534.9 216.6,532.6 216.9,532.0 217.3,532.0 217.6,533.4 217.9,532.0 218.2,536.7 218.6,538.1 218.9,538.3 219.2,536.3 219.6,534.7 219.9,537.1 220.2,534.3 220.6,531.3 220.9,538.2 221.2,531.6 221.5,531.1 221.9,536.5 222.2,534.9 222.5,535.5 222.9,535.6 223.2,533.9 223.5,531.0 223.9,534.6 224.2,538.0 224.5,534.5 224.8,536.9 225.2,537.0 225.5,535.5 225.8,531.7 226.2,537.1 226.5,536.0 226.8,536.0 227.2,530.5 227.5,536.7 227.8,534.7 228.1,534.6 228.5,530.7 228.8,535.9 229.1,535.5 229.5,532.0 229.8,531.3 230.1,535.6 230.5,532.1 230.8,533.7 231.1,536.3 231.4,534.3 231.8,536.3 232.1,531.7 232.4,537.0 232.8,534.9 233.1,534.8 233.4,531.7 233.8,535.1 234.1,534.1 234.4,537.9 234.7,532.0 235.1,534.8 235.4,533.9 235.7,537.8 236.1,537.1 236.4,534.3 236.7,537.3 237.1,534.9 237.4,531.4 237.7,531.2 238.0,533.5 238.4,537.3 238.7,535.9 239.0,537.0 239.4,537.6 239.7,536.1 240.0,533.5 240.4,532.6 240.7,536.4 241.0,536.6 241.3,537.9 241.7,535.5 242.0,537.3 242.3,532.7 242.7,532.6 243.0,533.8 243.3,531.4 243.7,536.8 244.0,536.4 244.3,536.9 244.6,531.4 245.0,535.1 245.3,530.3 245.6,530.8 246.0,534.3 246.3,535.7 246.6,535.1 247.0,531.2 247.3,532.8 247.6,534.3 247.9,530.9 248.3,535.2 248.6,534.5 248.9,535.2 249.3,538.7 249.6,534.4 249.9,538.5 250.3,535.7 250.6,534.7 250.9,532.8 251.2,537.5 251.6,533.6 251.9,533.4 252.2,534.1 252.6,535.0 252.9,533.9 253.2,537.1 253.6,533.0 253.9,533.0 254.2,535.9 254.5,531.5 254.9,533.8 255.2,537.4 255.5,538.4 255.9,536.3 256.2,532.6 256.5,533.9 256.9,534.3 257.2,537.5 257.5,533.0 257.8,536.6 258.2,534.4 258.5,536.6 258.8,535.9 259.2,537.7 259.5,536.0 259.8,532.8 260.2,534.1 260.5,533.9 260.8,531.9 261.1,537.5 261.5,532.4 261.8,533.2 262.1,538.4 262.5,536.0 262.8,537.4 263.1,530.9 263.5,535.9 263.8,534.3 264.1,538.4 264.4,537.9 264.8,535.8 265.1,538.1 265.4,536.7 265.8,532.0 266.1,535.6 266.4,538.2 266.8,532.0 267.1,535.7 267.4,531.9 267.7,534.6 268.1,537.2 268.4,534.9 268.7,538.5 269.1,533.9 269.4,537.4 269.7,531.7 270.1,534.6 270.4,538.4 270.7,537.0 271.0,537.5 271.4,534.9 271.7,536.3 272.0,536.8 272.4,535.0 272.7,536.4 273.0,536.0 273.4,534.9 273.7,535.9 274.0,536.1 274.3,536.6 274.7,537.4 275.0,537.2 275.3,538.9 275.7,539.1 276.0,531.8 276.3,536.9 276.7,538.0 277.0,536.0 277.3,532.7 277.6,538.8 278.0,537.2 278.3,533.5 278.6,533.6 279.0,532.0 279.3,533.9 279.6,534.8 280.0,533.4 280.3,531.9 280.6,532.9 280.9,531.8 281.3,534.5 281.6,536.2 281.9,537.9 282.3,537.8 282.6,533.9 282.9,535.7 283.3,536.0 283.6,531.8 283.9,534.7 284.2,531.9 284.6,531.0 284.9,531.5 285.2,525.3 285.6,523.0 285.9,525.7 286.2,522.8 286.6,530.2 286.9,530.3 287.2,527.0 287.5,530.7 287.9,535.9 288.2,530.2 288.5,536.3 288.9,534.0 289.2,531.7 289.5,537.7 289.9,536.1 290.2,534.0 290.5,532.7 290.8,537.6 291.2,531.8 291.5,535.4 291.8,535.2 292.2,533.0 292.5,538.2 292.8,538.3 293.2,537.2 293.5,532.7 293.8,538.7 294.1,538.2 294.5,538.4 294.8,537.7 295.1,535.3 295.5,531.8 295.8,534.0 296.1,534.3 296.5,535.1 296.8,536.7 297.1,536.5 297.4,533.2 297.8,536.3 298.1,531.8 298.4,533.7 298.8,536.3 299.1,534.9 299.4,529.9 299.8,536.5 300.1,534.6 300.4,530.4 300.7,526.0 301.1,520.8 301.4,504.5 301.7,493.0 302.1,477.9 302.4,468.4 302.7,453.1 303.1,445.7 303.4,446.1 303.7,443.7 304.0,442.8 304.4,449.4 304.7,455.6 305.0,466.6 305.4,481.0 305.7,496.0 306.0,511.4 306.4,517.9 306.7,524.1 307.0,530.4 307.3,530.3 307.7,531.4 308.0,535.1 308.3,531.7 308.7,537.1 309.0,535.0 309.3,536.4 309.7,534.9 310.0,538.5 310.3,535.8 310.6,537.6 311.0,537.3 311.3,534.0 311.6,532.8 312.0,535.5 312.3,535.0 312.6,537.5 313.0,534.6 313.3,535.8 313.6,532.5 313.9,534.4 314.3,533.8 314.6,534.4 314.9,539.2 315.3,538.1 315.6,535.4 315.9,535.4 316.3,534.4 316.6,535.9 316.9,540.2 317.2,534.4 317.6,539.2 317.9,537.1 318.2,539.6 318.6,538.2 318.9,534.1 319.2,539.9 319.6,539.9 319.9,533.5 320.2,535.4 320.5,533.6 320.9,536.4 321.2,539.5 321.5,538.4 321.9,537.5 322.2,536.0 322.5,533.9 322.9,533.9 323.2,536.9 323.5,535.6 323.8,538.9 324.2,538.3 324.5,538.3 324.8,534.2 325.2,537.7 325.5,537.5 325.8,537.6 326.2,536.2 326.5,536.5 326.8,537.8 327.1,539.7 327.5,532.2 327.8,533.9 328.1,538.4 328.5,536.7 328.8,533.6 329.1,534.3 329.5,537.7 329.8,535.5 330.1,538.2 330.4,539.9 330.8,535.7 331.1,539.2 331.4,536.6 331.8,538.9 332.1,536.1 332.4,534.1 332.8,535.5 333.1,537.9 333.4,540.2 333.7,535.6 334.1,537.0 334.4,540.1 334.7,538.2 335.1,535.0 335.4,537.4 335.7,535.7 336.1,533.4 336.4,536.3 336.7,540.2 337.0,537.9 337.4,537.8 337.7,537.4 338.0,539.7 338.4,536.1 338.7,533.3 339.0,535.7 339.4,533.2 339.7,537.4 340.0,540.0 340.3,536.2 340.7,536.9 341.0,539.3 341.3,538.6 341.7,534.7 342.0,540.1 342.3,537.9 342.7,533.7 343.0,533.9 343.3,534.4 343.6,539.9 344.0,538.6 344.3,540.2 344.6,539.2 345.0,536.7 345.3,539.2 345.6,534.7 346.0,537.6 346.3,537.9 346.6,538.8 346.9,539.3 347.3,540.0 347.6,533.7 347.9,532.8 348.3,535.9 348.6,538.6 348.9,535.2 349.3,539.7 349.6,539.6 349.9,536.8 350.2,539.0 350.6,537.9 350.9,535.0 351.2,538.7 351.6,537.9 351.9,538.8 352.2,533.1 352.6,534.9 352.9,536.7 353.2,538.7 353.5,540.1 353.9,533.3 354.2,534.7 354.5,537.0 354.9,536.1 355.2,535.4 355.5,536.6 355.9,536.9 356.2,539.0 356.5,538.9 356.8,536.9 357.2,535.5 357.5,536.5 357.8,538.1 358.2,539.2 358.5,535.1 358.8,534.4 359.2,533.1 359.5,533.0 359.8,536.5 360.1,534.2 360.5,540.0 360.8,536.3 361.1,538.1 361.5,538.6 361.8,532.9 362.1,535.5 362.5,539.9 362.8,533.8 363.1,533.2 363.4,534.5 363.8,535.7 364.1,539.4 364.4,539.7 364.8,535.5 365.1,536.7 365.4,534.8 365.8,537.9 366.1,535.7 366.4,535.2 366.7,537.0 367.1,534.5 367.4,533.9 367.7,528.5 368.1,523.2 368.4,516.6 368.7,499.1 369.1,489.4 369.4,472.0 369.7,456.1 370.0,451.0 370.4,442.9 370.7,439.4 371.0,443.3 371.4,445.6 371.7,444.6 372.0,452.6 372.4,469.3 372.7,485.6 373.0,500.1 373.3,512.9 373.7,518.8 374.0,525.3 374.3,528.6 374.7,535.0 375.0,536.6 375.3,530.4 375.7,532.4 376.0,536.2 376.3,536.4 376.6,532.9 377.0,529.1 377.3,533.0 377.6,530.5 378.0,519.4 378.3,513.7 378.6,495.8 379.0,478.8 379.3,468.7 379.6,452.2 379.9,447.1 380.3,445.5 380.6,442.9 380.9,440.2 381.3,446.6 381.6,448.9 381.9,457.8 382.3,475.4 382.6,486.6 382.9,502.2 383.2,515.9 383.6,521.8 383.9,531.6 384.2,530.3 384.6,532.7 384.9,536.5 385.2,532.0 385.6,534.2 385.9,538.1 386.2,536.3 386.5,532.3 386.9,534.0 387.2,537.4 387.5,538.1 387.9,532.6 388.2,535.4 388.5,535.9 388.9,536.3 389.2,537.8 389.5,539.3 389.8,540.6 390.2,538.3 390.5,535.6 390.8,538.9 391.2,539.6 391.5,536.0 391.8,534.4 392.2,535.1 392.5,530.6 392.8,532.6 393.1,531.8 393.5,533.5 393.8,528.2 394.1,528.2 394.5,531.4 394.8,532.9 395.1,534.7 395.5,538.2 395.8,532.5 396.1,540.0 396.4,539.6 396.8,540.6 397.1,535.5 397.4,539.2 397.8,538.9 398.1,538.1 398.4,535.3 398.8,538.0 399.1,538.7 399.4,539.8 399.7,538.0 400.1,537.3 400.4,540.6 400.7,537.0 401.1,538.7 401.4,539.0 401.7,538.4 402.1,537.3 402.4,535.2 402.7,534.2 403.0,539.3 403.4,538.5 403.7,537.9 404.0,540.1 404.4,539.0 404.7,539.7 405.0,538.9 405.4,536.2 405.7,538.5 406.0,538.7 406.3,536.3 406.7,535.2 407.0,536.7 407.3,533.7 407.7,536.2 408.0,538.7 408.3,537.5 408.7,538.7 409.0,535.2 409.3,538.8 409.6,534.8 410.0,534.7 410.3,527.4 410.6,527.7 411.0,525.5 411.3,525.1 411.6,526.7 412.0,532.1 412.3,529.4 412.6,528.2 412.9,529.7 413.3,535.4 413.6,536.4 413.9,534.6 414.3,539.7 414.6,532.8 414.9,534.5 415.3,537.4 415.6,535.3 415.9,539.4 416.2,534.3 416.6,536.2 416.9,538.9 417.2,535.0 417.6,535.6 417.9,536.8 418.2,539.1 418.6,538.0 418.9,541.5 419.2,541.0 419.5,537.4 419.9,535.4 420.2,536.1 420.5,539.1 420.9,534.9 421.2,534.6 421.5,536.4 421.9,538.7 422.2,541.5 422.5,536.6 422.8,534.8 423.2,540.0 423.5,540.6 423.8,537.0 424.2,538.2 424.5,539.4 424.8,539.5 425.2,540.0 425.5,539.4 425.8,534.6 426.1,537.1 426.5,534.5 426.8,534.6 427.1,536.3 427.5,540.4 427.8,536.2 428.1,538.2 428.5,539.9 428.8,537.7 429.1,539.7 429.4,541.3 429.8,541.2 430.1,536.4 430.4,537.9 430.8,536.7 431.1,540.5 431.4,536.6 431.8,537.4 432.1,535.8 432.4,536.1 432.7,538.8 433.1,534.6 433.4,540.5 433.7,535.9 434.1,536.4 434.4,534.3 434.7,541.9 435.1,541.7 435.4,539.9 435.7,539.8 436.0,534.5 436.4,537.8 436.7,536.0 437.0,539.4 437.4,540.4 437.7,538.0 438.0,537.5 438.4,538.9 438.7,535.9 439.0,535.0 439.3,539.2 439.7,540.3 440.0,538.8 440.3,539.1 440.7,536.2 441.0,539.3 441.3,535.6 441.7,534.6 442.0,536.5 442.3,535.4 442.6,538.7 443.0,541.0 443.3,535.9 443.6,539.7 444.0,538.0 444.3,537.6 444.6,538.5 445.0,537.4 445.3,538.1 445.6,536.0 445.9,540.5 446.3,538.0 446.6,539.2 446.9,535.4 447.3,537.3 447.6,534.1 447.9,534.1 448.3,537.6 448.6,540.8 448.9,538.4 449.2,534.2 449.6,536.8 449.9,536.0 450.2,538.7 450.6,535.7 450.9,538.7 451.2,538.9 451.6,536.3 451.9,536.3 452.2,539.2 452.5,534.5 452.9,539.1 453.2,533.5 453.5,534.8 453.9,529.4 454.2,530.2 454.5,520.0 454.9,520.0 455.2,515.7 455.5,512.8 455.8,515.6 456.2,519.0 456.5,515.7 456.8,517.7 457.2,528.0 457.5,529.1 457.8,534.9 458.2,533.9 458.5,531.4 458.8,537.4 459.1,539.0 459.5,538.1 459.8,538.9 460.1,539.8 460.5,540.0 460.8,538.1 461.1,535.9 461.5,539.7 461.8,541.3 462.1,537.5 462.4,541.7 462.8,538.3 463.1,535.3 463.4,539.1 463.8,538.3 464.1,539.2 464.4,539.7 464.8,540.6 465.1,535.8 465.4,533.8 465.7,534.5 466.1,534.4 466.4,538.4 466.7,536.7 467.1,535.7 467.4,537.3 467.7,537.1 468.1,535.9 468.4,534.1 468.7,537.2 469.0,541.5 469.4,534.1 469.7,539.6 470.0,537.3 470.4,536.5 470.7,541.0 471.0,540.5 471.4,538.4 471.7,539.4 472.0,537.1 472.3,541.1 472.7,536.7 473.0,541.6 473.3,536.2 473.7,542.0 474.0,542.1 474.3,541.2 474.7,536.5 475.0,535.4 475.3,541.0 475.6,537.0 476.0,538.1 476.3,539.4 476.6,539.9 477.0,540.9 477.3,538.7 477.6,539.3 478.0,538.8 478.3,537.8 478.6,539.7 478.9,541.9 479.3,539.8 479.6,535.7 479.9,538.8 480.3,535.6 480.6,542.0 480.9,541.8 481.3,540.5 481.6,541.4 481.9,536.5 482.2,535.0 482.6,536.7 482.9,536.7 483.2,536.3 483.6,538.9 483.9,536.1 484.2,539.9 484.6,541.4 484.9,539.0 485.2,538.2 485.5,536.8 485.9,538.5 486.2,536.9 486.5,539.8 486.9,539.7 487.2,535.5 487.5,538.0 487.9,535.4 488.2,536.6 488.5,541.2 488.8,538.6 489.2,539.5 489.5,541.6 489.8,540.6 490.2,537.1 490.5,536.5 490.8,540.1 491.2,537.5 491.5,539.3 491.8,541.1 492.1,542.3 492.5,541.0 492.8,536.8 493.1,538.2 493.5,537.9 493.8,541.9 494.1,539.1 494.5,541.5 494.8,540.3 495.1,539.5 495.4,540.1 495.8,541.7 496.1,534.6 496.4,536.4 496.8,540.3 497.1,535.0 497.4,536.4 497.8,535.8 498.1,539.6 498.4,541.2 498.7,539.8 499.1,535.9 499.4,540.9 499.7,538.8 500.1,538.9 500.4,537.3 500.7,537.4 501.1,541.7 501.4,535.8 501.7,539.4 502.0,535.9 502.4,536.2 502.7,540.7 503.0,537.0 503.4,537.9 503.7,540.4 504.0,536.8 504.4,539.6 504.7,537.1 505.0,539.0 505.3,537.7 505.7,538.3 506.0,538.5 506.3,539.8 506.7,536.2 507.0,541.8 507.3,538.4 507.7,540.4 508.0,536.2 508.3,536.7 508.6,538.0 509.0,537.3 509.3,535.5 509.6,534.3 510.0,536.2 510.3,539.4 510.6,538.2 511.0,537.9 511.3,535.8 511.6,539.0 511.9,535.2 512.3,529.7 512.6,532.8 512.9,520.1 513.3,518.8 513.6,509.4 513.9,504.2 514.3,500.4 514.6,503.4 514.9,503.3 515.2,505.9 515.6,506.1 515.9,518.2 516.2,525.9 516.6,524.7 516.9,535.8 517.2,531.7 517.6,535.2 517.9,536.6 518.2,538.3 518.5,539.6 518.9,534.5 519.2,533.0 519.5,534.4 519.9,533.8 520.2,535.0 520.5,537.1 520.9,534.9 521.2,537.6 521.5,538.7 521.8,537.9 522.2,537.1 522.5,538.1 522.8,539.7 523.2,535.3 523.5,534.3 523.8,534.6 524.2,538.4 524.5,539.0 524.8,536.0 525.1,539.9 525.5,541.5 525.8,537.2 526.1,539.8 526.5,537.6 526.8,538.6 527.1,537.9 527.5,535.1 527.8,540.3 528.1,534.7 528.4,533.6 528.8,533.5 529.1,539.5 529.4,536.5 529.8,533.7 530.1,532.8 530.4,532.5 530.8,532.3 531.1,529.9 531.4,531.8 531.7,531.8 532.1,534.8 532.4,535.4 532.7,532.2 533.1,537.3 533.4,533.9 533.7,538.4 534.1,539.4 534.4,535.4 534.7,537.0 535.0,535.2 535.4,539.0 535.7,540.2 536.0,540.7 536.4,539.7 536.7,541.4 537.0,539.6 537.4,538.5 537.7,536.0 538.0,538.1 538.3,536.6 538.7,540.1 539.0,535.4 539.3,539.4 539.7,536.0 540.0,539.8 540.3,536.2 540.7,535.7 541.0,536.0 541.3,539.7 541.6,536.5 542.0,538.8 542.3,536.7 542.6,535.6 543.0,539.4 543.3,536.7 543.6,527.8 544.0,525.8 544.3,521.1 544.6,518.0 544.9,517.9 545.3,517.6 545.6,517.5 545.9,518.5 546.3,521.2 546.6,524.4 546.9,529.6 547.3,528.4 547.6,532.9 547.9,533.6 548.2,534.2 548.6,537.1 548.9,538.2 549.2,538.1 549.6,535.1 549.9,540.3 550.2,533.6 550.6,540.7 550.9,540.4 551.2,536.9 551.5,535.7 551.9,533.7 552.2,533.7 552.5,534.1 552.9,535.2 553.2,534.3 553.5,534.0 553.9,535.8 554.2,537.5 554.5,539.8 554.8,536.5 555.2,537.6 555.5,538.0 555.8,535.9 556.2,534.6 556.5,538.8 556.8,541.3 557.2,536.0 557.5,539.4 557.8,536.5 558.1,538.0 558.5,535.1 558.8,541.5 559.1,535.5 559.5,538.8 559.8,541.7 560.1,538.3 560.5,541.1 560.8,540.6 561.1,538.7 561.4,540.3 561.8,539.7 562.1,541.7 562.4,535.3 562.8,536.1 563.1,535.5 563.4,539.8 563.8,534.7 564.1,540.8 564.4,535.0 564.7,539.9 565.1,536.9 565.4,538.7 565.7,541.7 566.1,537.1 566.4,538.6 566.7,535.7 567.1,540.3 567.4,539.9 567.7,537.4 568.0,539.4 568.4,538.5 568.7,535.0 569.0,541.7 569.4,535.8 569.7,540.6 570.0,541.5 570.4,541.4 570.7,537.4 571.0,536.3 571.3,536.0 571.7,538.4 572.0,538.7 572.3,540.2 572.7,538.0 573.0,535.3 573.3,542.5 573.7,537.1 574.0,540.9 574.3,541.6 574.6,540.1 575.0,537.7 575.3,535.7 575.6,539.0 576.0,535.0 576.3,540.4 576.6,539.7 577.0,540.0 577.3,536.3 577.6,537.1 577.9,535.5 578.3,534.2 578.6,536.3 578.9,539.5 579.3,536.1 579.6,529.0 579.9,530.4 580.3,530.7 580.6,531.4 580.9,532.2 581.2,528.4 581.6,533.2 581.9,530.7 582.2,536.1 582.6,531.7 582.9,533.6 583.2,539.6 583.6,540.3 583.9,539.0 584.2,534.1 584.5,537.1 584.9,538.4 585.2,538.3 585.5,537.5 585.9,533.2 586.2,539.8 586.5,540.0 586.9,536.8 587.2,536.0 587.5,532.8 587.8,533.2 588.2,531.9 588.5,527.6 588.8,523.2 589.2,513.6 589.5,511.8 589.8,509.5 590.2,507.6 590.5,509.5 590.8,512.2 591.1,513.6 591.5,519.3 591.8,528.5 592.1,532.6 592.5,535.0 592.8,534.3 593.1,536.1 593.5,535.4 593.8,538.7 594.1,533.3 594.4,540.6 594.8,537.2 595.1,538.6 595.4,540.1 595.8,535.6 596.1,541.2 596.4,537.7 596.8,535.8 597.1,534.2 597.4,540.1 597.7,536.4 598.1,536.8 598.4,536.8 598.7,529.7 599.1,532.8 599.4,530.7 599.7,526.6 600.1,519.8 600.4,523.2 600.7,520.6 601.0,519.2 601.4,523.8 601.7,523.1 602.0,530.4 602.4,530.1 602.7,536.3 603.0,536.6 603.4,538.0 603.7,533.7 604.0,535.5 604.3,534.4 604.7,536.9 605.0,539.7 605.3,536.6 605.7,539.6 606.0,541.5 606.3,537.3 606.7,540.3 607.0,534.7 607.3,535.3 607.6,541.3 608.0,537.6 608.3,537.8 608.6,536.4 609.0,539.9 609.3,541.0 609.6,541.5 610.0,534.4 610.3,540.2 610.6,536.6 610.9,541.2 611.3,534.2 611.6,539.5 611.9,539.1 612.3,534.7 612.6,539.7 612.9,536.5 613.3,538.0 613.6,539.9 613.9,541.9 614.2,536.5 614.6,537.8 614.9,534.6 615.2,534.8 615.6,535.4 615.9,537.8 616.2,538.9 616.6,538.2 616.9,539.2 617.2,535.1 617.5,535.9 617.9,540.0 618.2,536.3 618.5,536.8 618.9,535.4 619.2,537.6 619.5,540.4 619.9,537.2 620.2,541.7 620.5,538.5 620.8,537.4 621.2,535.0 621.5,537.9 621.8,538.4 622.2,540.2 622.5,536.9 622.8,539.3 623.2,537.3 623.5,539.4 623.8,534.9 624.1,534.7 624.5,539.8 624.8,536.8 625.1,541.0 625.5,538.6 625.8,536.0 626.1,535.3 626.5,539.7 626.8,535.9 627.1,537.6 627.4,537.9 627.8,541.7 628.1,539.3 628.4,541.5 628.8,536.3 629.1,537.2 629.4,538.7 629.8,540.1 630.1,541.0 630.4,538.7 630.7,535.5 631.1,540.0 631.4,537.2 631.7,536.8 632.1,536.8 632.4,536.0 632.7,538.0 633.1,540.3 633.4,533.5 633.7,536.0 634.0,535.2 634.4,530.5 634.7,521.5 635.0,518.5 635.4,511.3 635.7,510.4 636.0,509.6 636.4,513.6 636.7,516.6 637.0,518.2 637.3,522.4 637.7,528.4 638.0,532.6 638.3,534.6 638.7,537.5 639.0,533.0 639.3,536.6 639.7,540.8 640.0,534.4 640.3,540.9 640.6,541.5 641.0,538.8 641.3,538.0 641.6,537.2 642.0,540.9 642.3,538.2 642.6,536.4 643.0,535.1 643.3,541.7 643.6,538.2 643.9,534.3 644.3,536.3 644.6,537.2 644.9,540.4 645.3,540.5 645.6,539.4 645.9,540.9 646.3,534.1 646.6,536.9 646.9,535.1 647.2,541.7 647.6,540.9 647.9,538.3 648.2,541.8 648.6,535.2 648.9,536.3 649.2,540.6 649.6,534.3 649.9,539.4 650.2,538.0 650.5,534.2 650.9,539.7 651.2,536.6 651.5,534.1 651.9,541.4 652.2,536.1 652.5,537.8 652.9,535.2 653.2,539.5 653.5,539.9 653.8,540.7 654.2,535.6 654.5,534.8 654.8,536.2 655.2,529.9 655.5,528.4 655.8,533.8 656.2,528.4 656.5,528.8 656.8,527.2 657.1,529.6 657.5,530.7 657.8,532.7 658.1,535.4 658.5,532.8 658.8,540.6 659.1,538.5 659.5,541.1 659.8,535.1 660.1,538.0 660.4,539.9 660.8,540.2 661.1,538.9 661.4,538.4 661.8,538.1 662.1,534.7 662.4,539.3 662.8,535.7 663.1,539.8 663.4,537.6 663.7,535.8 664.1,535.3 664.4,538.3 664.7,541.8 665.1,541.6 665.4,541.2 665.7,534.7 666.1,540.7 666.4,537.6 666.7,536.5 667.0,537.5 667.4,538.0 667.7,538.2 668.0,538.4 668.4,538.8 668.7,538.2 669.0,537.0 669.4,535.1 669.7,535.3 670.0,534.8 670.3,534.9 670.7,541.6 671.0,539.4 671.3,539.5 671.7,537.7 672.0,538.4 672.3,540.1 672.7,541.9 673.0,538.3 673.3,536.4 673.6,541.0 674.0,542.2 674.3,538.3 674.6,535.8 675.0,537.2 675.3,542.0 675.6,538.0 676.0,539.4 676.3,539.2 676.6,541.2 676.9,535.9 677.3,537.8 677.6,540.1 677.9,538.3 678.3,541.8 678.6,541.5 678.9,538.3 679.3,538.2 679.6,541.8 679.9,538.0 680.2,535.5 680.6,536.5 680.9,539.3 681.2,542.6 681.6,542.1 681.9,539.9 682.2,540.2 682.6,542.1 682.9,535.9 683.2,540.8 683.5,541.0 683.9,538.8 684.2,540.7 684.5,538.6 684.9,539.7 685.2,541.1 685.5,535.5 685.9,542.8 686.2,541.3 686.5,541.8 686.8,538.3 687.2,540.1 687.5,542.5 687.8,540.2 688.2,537.6 688.5,539.1 688.8,538.5 689.2,536.7 689.5,541.8 689.8,542.8 690.1,540.9 690.5,541.0 690.8,540.0 691.1,539.4 691.5,542.9 691.8,538.2 692.1,536.1 692.5,536.4 692.8,537.3 693.1,541.9 693.4,540.4 693.8,537.8 694.1,537.0 694.4,540.7 694.8,538.9 695.1,537.2 695.4,537.4 695.8,541.7 696.1,537.3 696.4,538.2 696.7,534.3 697.1,535.6 697.4,537.6 697.7,541.3 698.1,536.2 698.4,540.2 698.7,538.1 699.1,534.3 699.4,540.9 699.7,539.1 700.0,538.7 700.4,539.7 700.7,534.3 701.0,537.7 701.4,538.8 701.7,541.3 702.0,540.3 702.4,538.5 702.7,542.1 703.0,536.8 703.3,541.7 703.7,541.1 704.0,535.2 704.3,535.9 704.7,541.9 705.0,539.7 705.3,540.1 705.7,541.0 706.0,537.2 706.3,542.1 706.6,537.6 707.0,541.5 707.3,540.8 707.6,538.0 708.0,539.7 708.3,542.2 708.6,537.8 709.0,541.9 709.3,537.2 709.6,536.4 709.9,535.6 710.3,542.0 710.6,542.7 710.9,536.3 711.3,541.4 711.6,536.2 711.9,535.8 712.3,536.5 712.6,543.2 712.9,535.7 713.2,542.0 713.6,541.0 713.9,541.4 714.2,536.0 714.6,542.1 714.9,541.6 715.2,538.4 715.6,541.6 715.9,539.6 716.2,537.2 716.5,540.7 716.9,541.4 717.2,541.7 717.5,537.5 717.9,540.4 718.2,536.4 718.5,541.7 718.9,536.3 719.2,539.7 719.5,542.0 719.8,540.1 720.2,539.7 720.5,540.8 720.8,538.5 721.2,536.7 721.5,542.6 721.8,536.0 722.2,539.6 722.5,537.7 722.8,542.3 723.1,539.5 723.5,536.7 723.8,540.1 724.1,539.8 724.5,541.8 724.8,539.2 725.1,535.8 725.5,535.1 725.8,540.5 726.1,539.9 726.4,536.7 726.8,535.4 727.1,537.1 727.4,540.8 727.8,538.7 728.1,534.3 728.4,537.8 728.8,537.3 729.1,537.5 729.4,535.1 729.7,529.0 730.1,528.4 730.4,528.4 730.7,524.0 731.1,529.5 731.4,525.6 731.7,524.3 732.1,526.4 732.4,526.1 732.7,529.1 733.0,524.2 733.4,529.5 733.7,531.4 734.0,531.2 734.4,530.5 734.7,533.6 735.0,533.4 735.4,537.7 735.7,540.2 736.0,540.7 736.3,534.1 736.7,541.0 737.0,539.1 737.3,536.9 737.7,542.0 738.0,540.6 738.3,535.4 738.7,535.0 739.0,542.2 739.3,540.8 739.6,535.3 740.0,535.8 740.3,542.5 740.6,535.8 741.0,536.7 741.3,538.3 741.6,537.6 742.0,539.6 742.3,535.6 742.6,535.5 742.9,540.7 743.3,541.0 743.6,537.0 743.9,539.5 744.3,542.7 744.6,537.0 744.9,542.0 745.3,541.1 745.6,539.8 745.9,540.9 746.2,540.2 746.6,540.2 746.9,535.6 747.2,540.7 747.6,535.9 747.9,537.7 748.2,540.8 748.6,535.0 748.9,537.3 749.2,536.1 749.5,540.3 749.9,536.7 750.2,536.1 750.5,538.9 750.9,536.5 751.2,536.2 751.5,536.7 751.9,538.4 752.2,541.9 752.5,536.6 752.8,538.2 753.2,538.7 753.5,535.8 753.8,535.2 754.2,541.4 754.5,538.5 754.8,538.8 755.2,541.8 755.5,538.7 755.8,535.3 756.1,538.7 756.5,537.9 756.8,537.6 757.1,542.1 757.5,536.9 757.8,539.3 758.1,539.9 758.5,541.2 758.8,541.1 759.1,541.2 759.4,538.6 759.8,538.0 760.1,539.6 760.4,539.2 760.8,539.0 761.1,538.9 761.4,536.2 761.8,536.2 762.1,541.0 762.4,537.0 762.7,539.6 763.1,541.5 763.4,535.7 763.7,538.6 764.1,540.2 764.4,536.9 764.7,538.0 765.1,541.0 765.4,537.1 765.7,535.7 766.0,538.9 766.4,536.3 766.7,535.7 767.0,539.4 767.4,542.1 767.7,537.2 768.0,537.0 768.4,537.2 768.7,535.8 769.0,539.2 769.3,539.7 769.7,540.5 770.0,542.2 770.3,536.7 770.7,537.6 771.0,538.2 771.3,541.5 771.7,540.3 772.0,537.3 772.3,536.9 772.6,541.6 773.0,535.4 773.3,537.7 773.6,539.0 774.0,541.8 774.3,539.3 774.6,535.5 775.0,540.3 775.3,542.2 775.6,541.5 775.9,539.2 776.3,538.7 776.6,541.4 776.9,535.9 777.3,540.3 777.6,537.8 777.9,538.2 778.3,540.7 778.6,541.9 778.9,542.4 779.2,541.2 779.6,539.4 779.9,541.7 780.2,540.7 780.6,542.0 780.9,536.4 781.2,539.5 781.6,537.4 781.9,541.8 782.2,540.6 782.5,535.0 782.9,535.2 783.2,536.7 783.5,539.0 783.9,536.1 784.2,535.6 784.5,539.2 784.9,537.2 785.2,539.2 785.5,535.1 785.8,536.6 786.2,542.0 786.5,536.2 786.8,538.3 787.2,537.6 787.5,539.9 787.8,535.6 788.2,541.7 788.5,535.4 788.8,540.3 789.1,538.6 789.5,537.9 789.8,542.6 790.1,540.7 790.5,542.3 790.8,542.1 791.1,535.7 791.5,536.5 791.8,541.7 792.1,537.6 792.4,535.6 792.8,535.3 793.1,535.2 793.4,536.3 793.8,535.4 794.1,536.2 794.4,540.8 794.8,535.1 795.1,538.0 795.4,537.0 795.7,540.1 796.1,535.0 796.4,540.8 796.7,539.4 797.1,539.3 797.4,536.3 797.7,536.4 798.1,535.4 798.4,538.2 798.7,536.2 799.0,537.6 799.4,539.8 799.7,537.4 800.0,533.8 800.4,529.4 800.7,532.7 801.0,529.0 801.4,527.9 801.7,532.0 802.0,525.8 802.3,527.6 802.7,527.1 803.0,525.1 803.3,531.0 803.7,528.0 804.0,533.3 804.3,528.9 804.7,534.2 805.0,536.2 805.3,538.5 805.6,532.9 806.0,538.0 806.3,539.4 806.6,534.4 807.0,534.2 807.3,534.1 807.6,535.0 808.0,541.1 808.3,537.9 808.6,537.9 808.9,538.0 809.3,534.6 809.6,540.6 809.9,537.1 810.3,539.3 810.6,536.3 810.9,537.0 811.3,542.2 811.6,538.0 811.9,540.5 812.2,539.6 812.6,541.0 812.9,540.0 813.2,535.4 813.6,540.1 813.9,539.2 814.2,536.0 814.6,540.5 814.9,542.4 815.2,536.3 815.5,541.5 815.9,536.6 816.2,540.4 816.5,537.1 816.9,536.2 817.2,537.9 817.5,541.5 817.9,542.4 818.2,542.2 818.5,537.8 818.8,537.2 819.2,539.3 819.5,535.9 819.8,535.2 820.2,536.4 820.5,534.6 820.8,539.2 821.2,541.6 821.5,535.7 821.8,536.1 822.1,537.4 822.5,541.6 822.8,535.3 823.1,539.2 823.5,536.7 823.8,541.1 824.1,541.4 824.5,538.4 824.8,534.7 825.1,540.9 825.4,535.7 825.8,536.4 826.1,535.6 826.4,534.6 826.8,532.4 827.1,534.7 827.4,530.3 827.8,529.3 828.1,528.4 828.4,528.2 828.7,532.6 829.1,534.1 829.4,529.8 829.7,529.1 830.1,530.0 830.4,535.8 830.7,537.1 831.1,532.0 831.4,533.2 831.7,537.8 832.0,537.6 832.4,534.3 832.7,533.5 833.0,540.0 833.4,538.3 833.7,539.9 834.0,536.5 834.4,535.8 834.7,534.5 835.0,534.4 835.3,537.8 835.7,533.9 836.0,537.1 836.3,538.8 836.7,534.3 837.0,534.4 837.3,537.1 837.7,538.4 838.0,534.2 838.3,540.9 838.6,537.1 839.0,538.6 839.3,541.6 839.6,536.1 840.0,539.1 840.3,538.7 840.6,535.7 841.0,540.5 841.3,540.2 841.6,535.6 841.9,534.1 842.3,534.2 842.6,537.6 842.9,533.4 843.3,535.1 843.6,536.1 843.9,534.1 844.3,540.9 844.6,540.3 844.9,533.9 845.2,535.3 845.6,538.6 845.9,536.4 846.2,535.1 846.6,539.8 846.9,535.2 847.2,538.7 847.6,536.3 847.9,535.2 848.2,540.9 848.5,534.8 848.9,539.3 849.2,537.3 849.5,535.4 849.9,540.5 850.2,537.9 850.5,539.5 850.9,535.9 851.2,537.2 851.5,539.9 851.8,535.0 852.2,535.7 852.5,541.1 852.8,536.0 853.2,535.6 853.5,539.2 853.8,535.2 854.2,536.2 854.5,539.6 854.8,536.1 855.1,539.3 855.5,538.2 855.8,539.6 856.1,539.9 856.5,540.3 856.8,538.4 857.1,539.1 857.5,534.8 857.8,536.8 858.1,539.1 858.4,538.2 858.8,538.5 859.1,539.0 859.4,540.5 859.8,538.3 860.1,537.4 860.4,534.0 860.8,538.8 861.1,537.4 861.4,534.5 861.7,535.9 862.1,539.0 862.4,536.3 862.7,539.8 863.1,537.9 863.4,540.3 863.7,534.9 864.1,535.0 864.4,537.5 864.7,540.2 865.0,540.4 865.4,536.6 865.7,537.5 866.0,539.6 866.4,540.5 866.7,539.2 867.0,537.1 867.4,538.5 867.7,538.2 868.0,534.2 868.3,538.3 868.7,534.2 869.0,536.1 869.3,536.0 869.7,539.0 870.0,539.8 870.3,536.5 870.7,536.0 871.0,538.5 871.3,535.1 871.6,534.0 872.0,536.8 872.3,534.7 872.6,533.5 873.0,535.0 873.3,539.5 873.6,535.6 874.0,537.5 874.3,535.3 874.6,535.9 874.9,540.2 875.3,539.5 875.6,538.4 875.9,537.1 876.3,538.5 876.6,538.0 876.9,540.5 877.3,540.6 877.6,537.8 877.9,538.1 878.2,536.8 878.6,540.8 878.9,536.2 879.2,535.6 879.6,540.5 879.9,537.9 880.2,539.2 880.6,540.0 880.9,540.3 881.2,541.1 881.5,539.5 881.9,535.5 882.2,541.3 882.5,536.1 882.9,539.4 883.2,539.9 883.5,537.5 883.9,537.7 884.2,535.5 884.5,535.6 884.8,539.2 885.2,539.6 885.5,538.1 885.8,538.6 886.2,541.4 886.5,535.2 886.8,537.5 887.2,541.4 887.5,535.4 887.8,541.8 888.1,539.8 888.5,540.8 888.8,540.1 889.1,536.8 889.5,535.8 889.8,539.0 890.1,541.3 890.5,536.8 890.8,540.9 891.1,534.5 891.4,537.1 891.8,539.7 892.1,534.5 892.4,538.6 892.8,541.9 893.1,535.3 893.4,534.7 893.8,541.0 894.1,540.6 894.4,534.6 894.7,539.6 895.1,537.3 895.4,534.5 895.7,542.1 896.1,536.5 896.4,537.1 896.7,535.9 897.1,537.7 897.4,540.5 897.7,536.7 898.0,539.4 898.4,541.5 898.7,540.0 899.0,535.8 899.4,537.0 899.7,537.9 900.0,539.5 900.4,540.9 900.7,538.1 901.0,536.8 901.3,540.7 901.7,535.8 902.0,540.5 902.3,541.3 902.7,537.8 903.0,539.2 903.3,534.8 903.7,537.9 904.0,540.0 904.3,535.6 904.6,539.3 905.0,538.0 905.3,541.2 905.6,540.5 906.0,536.0 906.3,534.7 906.6,537.8 907.0,535.3 907.3,535.3 907.6,539.4 907.9,537.3 908.3,539.9 908.6,537.2 908.9,535.8 909.3,539.4 909.6,536.7 909.9,542.0 910.3,536.7 910.6,537.5 910.9,537.4 911.2,537.3 911.6,542.8 911.9,540.7 912.2,538.1 912.6,536.4 912.9,542.0 913.2,540.4 913.6,541.8 913.9,541.9 914.2,536.0 914.5,542.0 914.9,539.4 915.2,536.2 915.5,537.7 915.9,537.4 916.2,540.4 916.5,540.4 916.9,538.4 917.2,539.8 917.5,540.1 917.8,538.4 918.2,536.7 918.5,538.7 918.8,536.8 919.2,531.4 919.5,536.2 919.8,537.6 920.2,536.5 920.5,532.6 920.8,533.0 921.1,535.8 921.5,537.0 921.8,536.7 922.1,534.2 922.5,539.0 922.8,533.9 923.1,534.7 923.5,537.2 923.8,536.8 924.1,540.5 924.4,534.4 924.8,535.1 925.1,539.3 925.4,538.4 925.8,535.0 926.1,540.5 926.4,541.2 926.8,541.7 927.1,538.0 927.4,539.8 927.7,538.0 928.1,536.8 928.4,537.2 928.7,536.2 929.1,541.5 929.4,539.6 929.7,535.7 930.1,539.5 930.4,541.3 930.7,538.1 931.0,541.0 931.4,535.5 931.7,537.3 932.0,542.6 932.4,541.0 932.7,540.0 933.0,536.7 933.4,540.5 933.7,539.7 934.0,539.4 934.3,540.4 934.7,535.6 935.0,541.2 935.3,540.3 935.7,535.1 936.0,540.0 936.3,538.9 936.7,537.0 937.0,541.1 937.3,539.8 937.6,540.1 938.0,541.0 938.3,538.7 938.6,538.3 939.0,537.6 939.3,536.9 939.6,538.6 940.0,539.1 940.3,535.3 940.6,535.5 940.9,537.0 941.3,536.7 941.6,531.5 941.9,531.8 942.3,536.7 942.6,535.8 942.9,531.2 943.3,533.3 943.6,538.8 943.9,536.8 944.2,537.6 944.6,536.5 944.9,539.2 945.2,535.1 945.6,540.3 945.9,539.3 946.2,541.2 946.6,536.9 946.9,537.0 947.2,536.9 947.5,541.1 947.9,539.4 948.2,536.7 948.5,536.2 948.9,540.8 949.2,535.8 949.5,542.7 949.9,538.1 950.2,538.5 950.5,536.3 950.8,537.2 951.2,536.8 951.5,541.1 951.8,535.6 952.2,537.3 952.5,537.2 952.8,536.9 953.2,536.2 953.5,541.0 953.8,535.2 954.1,536.1 954.5,540.2 954.8,536.2 955.1,538.1 955.5,542.3 955.8,538.1" fill="none" stroke="#ff0000" stroke-width="4.2" stroke-linejoin="round"/>
<polyline points="143.0,656.7 143.3,656.1 143.7,655.9 144.0,661.2 144.3,661.2 144.7,655.4 145.0,656.7 145.3,659.4 145.6,659.6 146.0,657.7 146.3,657.9 146.6,660.0 147.0,657.7 147.3,661.8 147.6,656.9 148.0,655.7 148.3,656.6 148.6,654.8 148.9,661.2 149.3,659.2 149.6,655.8 149.9,654.6 150.3,660.8 150.6,657.2 150.9,656.2 151.3,657.8 151.6,655.9 151.9,655.2 152.2,654.6 152.6,654.5 152.9,658.9 153.2,656.8 153.6,656.3 153.9,657.9 154.2,659.1 154.6,656.0 154.9,655.4 155.2,659.7 155.5,656.8 155.9,661.0 156.2,658.5 156.5,662.2 156.9,656.3 157.2,655.9 157.5,656.2 157.9,662.6 158.2,660.3 158.5,659.5 158.8,657.5 159.2,655.9 159.5,655.0 159.8,660.6 160.2,657.9 160.5,661.6 160.8,653.7 161.2,659.2 161.5,652.4 161.8,655.9 162.1,646.1 162.5,642.6 162.8,640.5 163.1,637.8 163.5,633.1 163.8,636.3 164.1,637.6 164.5,631.6 164.8,633.6 165.1,640.4 165.4,638.3 165.8,647.0 166.1,651.5 166.4,656.0 166.8,655.9 167.1,656.1 167.4,654.7 167.8,656.5 168.1,656.1 168.4,659.0 168.7,655.5 169.1,661.0 169.4,662.8 169.7,656.5 170.1,660.4 170.4,662.1 170.7,656.9 171.1,662.5 171.4,661.0 171.7,661.5 172.0,657.9 172.4,661.3 172.7,662.0 173.0,662.7 173.4,660.3 173.7,656.7 174.0,661.3 174.4,659.3 174.7,663.0 175.0,658.9 175.3,661.1 175.7,660.8 176.0,657.4 176.3,661.9 176.7,659.9 177.0,660.5 177.3,659.9 177.7,656.9 178.0,657.8 178.3,660.6 178.6,660.0 179.0,659.8 179.3,658.5 179.6,661.3 180.0,660.5 180.3,660.8 180.6,661.6 181.0,664.3 181.3,662.7 181.6,661.7 181.9,662.1 182.3,658.6 182.6,662.3 182.9,658.4 183.3,661.8 183.6,658.3 183.9,662.8 184.3,659.5 184.6,663.7 184.9,662.7 185.2,663.9 185.6,662.7 185.9,659.7 186.2,658.3 186.6,664.0 186.9,657.7 187.2,664.8 187.6,658.9 187.9,662.1 188.2,661.5 188.5,663.1 188.9,658.9 189.2,660.5 189.5,662.3 189.9,664.0 190.2,662.4 190.5,662.9 190.9,660.1 191.2,661.1 191.5,662.5 191.8,660.5 192.2,663.9 192.5,664.2 192.8,658.1 193.2,661.4 193.5,659.7 193.8,662.9 194.2,664.9 194.5,660.2 194.8,660.6 195.1,661.5 195.5,662.1 195.8,661.8 196.1,661.8 196.5,664.4 196.8,660.6 197.1,662.2 197.5,659.7 197.8,661.0 198.1,661.8 198.4,665.6 198.8,664.2 199.1,660.8 199.4,665.9 199.8,664.9 200.1,665.3 200.4,664.4 200.8,659.8 201.1,661.3 201.4,659.7 201.7,663.6 202.1,664.5 202.4,660.5 202.7,662.6 203.1,658.8 203.4,661.7 203.7,658.5 204.1,659.5 204.4,663.1 204.7,665.5 205.0,664.5 205.4,663.5 205.7,661.7 206.0,659.2 206.4,665.1 206.7,664.3 207.0,664.0 207.4,660.5 207.7,662.8 208.0,661.3 208.3,661.7 208.7,664.1 209.0,664.4 209.3,661.5 209.7,664.4 210.0,660.6 210.3,665.8 210.7,662.7 211.0,659.8 211.3,661.2 211.6,663.0 212.0,661.7 212.3,664.2 212.6,663.4 213.0,662.8 213.3,664.6 213.6,660.9 214.0,661.0 214.3,665.8 214.6,662.5 214.9,666.4 215.3,666.6 215.6,665.1 215.9,659.7 216.3,661.4 216.6,665.1 216.9,660.5 217.3,666.5 217.6,659.2 217.9,665.7 218.2,661.7 218.6,663.0 218.9,663.1 219.2,659.5 219.6,663.8 219.9,663.5 220.2,665.9 220.6,661.7 220.9,666.4 221.2,659.4 221.5,666.4 221.9,666.0 222.2,662.5 222.5,666.0 222.9,661.1 223.2,662.3 223.5,661.2 223.9,666.2 224.2,660.5 224.5,659.8 224.8,659.2 225.2,663.5 225.5,664.9 225.8,662.2 226.2,660.3 226.5,665.9 226.8,666.3 227.2,660.0 227.5,660.1 227.8,664.1 228.1,661.8 228.5,659.8 228.8,663.8 229.1,665.8 229.5,661.1 229.8,663.7 230.1,665.2 230.5,663.7 230.8,662.6 231.1,664.1 231.4,660.8 231.8,665.7 232.1,661.5 232.4,661.8 232.8,661.5 233.1,666.4 233.4,665.2 233.8,661.8 234.1,667.6 234.4,664.8 234.7,662.6 235.1,663.5 235.4,663.2 235.7,662.0 236.1,665.6 236.4,665.5 236.7,666.4 237.1,663.5 237.4,667.5 237.7,664.9 238.0,660.4 238.4,661.0 238.7,662.4 239.0,663.6 239.4,660.5 239.7,663.3 240.0,667.1 240.4,664.7 240.7,664.5 241.0,661.8 241.3,660.9 241.7,664.2 242.0,663.5 242.3,665.3 242.7,667.2 243.0,663.4 243.3,660.4 243.7,665.8 244.0,660.5 244.3,661.8 244.6,666.4 245.0,667.4 245.3,661.5 245.6,662.0 246.0,667.1 246.3,664.2 246.6,666.1 247.0,666.2 247.3,660.4 247.6,664.7 247.9,666.2 248.3,664.7 248.6,664.3 248.9,662.7 249.3,662.5 249.6,664.3 249.9,660.2 250.3,665.1 250.6,663.4 250.9,659.7 251.2,662.9 251.6,662.5 251.9,660.8 252.2,664.4 252.6,663.6 252.9,667.0 253.2,661.0 253.6,664.0 253.9,660.3 254.2,666.5 254.5,665.1 254.9,665.7 255.2,662.7 255.5,666.1 255.9,660.7 256.2,662.1 256.5,661.3 256.9,662.3 257.2,663.3 257.5,660.9 257.8,665.3 258.2,666.0 258.5,663.1 258.8,665.4 259.2,662.9 259.5,664.6 259.8,661.3 260.2,667.9 260.5,661.7 260.8,663.9 261.1,661.4 261.5,660.9 261.8,664.2 262.1,667.4 262.5,662.1 262.8,666.2 263.1,667.5 263.5,664.0 263.8,660.2 264.1,662.7 264.4,663.6 264.8,662.9 265.1,662.8 265.4,663.9 265.8,660.6 266.1,665.5 266.4,664.1 266.8,661.1 267.1,660.9 267.4,662.5 267.7,663.1 268.1,667.4 268.4,666.3 268.7,664.1 269.1,665.7 269.4,664.2 269.7,662.8 270.1,661.2 270.4,666.7 270.7,661.4 271.0,659.8 271.4,665.9 271.7,662.9 272.0,664.5 272.4,659.8 272.7,665.3 273.0,661.4 273.4,661.5 273.7,660.2 274.0,659.7 274.3,661.6 274.7,660.7 275.0,663.0 275.3,662.4 275.7,662.5 276.0,663.5 276.3,664.5 276.7,660.6 277.0,666.0 277.3,661.7 277.6,662.7 278.0,665.1 278.3,667.3 278.6,661.0 279.0,666.8 279.3,661.2 279.6,664.1 280.0,663.4 280.3,661.7 280.6,663.1 280.9,660.1 281.3,663.5 281.6,663.9 281.9,663.7 282.3,662.6 282.6,662.1 282.9,660.6 283.3,662.8 283.6,661.7 283.9,661.0 284.2,666.4 284.6,665.7 284.9,658.1 285.2,657.4 285.6,661.4 285.9,651.8 286.2,651.4 286.6,656.4 286.9,655.2 287.2,650.6 287.5,653.5 287.9,653.9 288.2,655.9 288.5,655.1 288.9,660.2 289.2,665.5 289.5,659.3 289.9,660.3 290.2,667.2 290.5,666.7 290.8,665.3 291.2,664.2 291.5,663.2 291.8,663.0 292.2,667.3 292.5,667.5 292.8,661.0 293.2,665.8 293.5,665.4 293.8,661.6 294.1,663.2 294.5,666.9 294.8,659.9 295.1,665.1 295.5,660.0 295.8,666.3 296.1,664.8 296.5,660.4 296.8,660.0 297.1,661.3 297.4,665.0 297.8,665.4 298.1,660.8 298.4,663.4 298.8,661.9 299.1,666.0 299.4,661.7 299.8,659.7 300.1,661.4 300.4,664.8 300.7,658.8 301.1,662.0 301.4,656.0 301.7,654.7 302.1,648.8 302.4,635.3 302.7,616.5 303.1,604.7 303.4,589.2 303.7,577.0 304.0,570.9 304.4,564.2 304.7,567.1 305.0,561.3 305.4,568.2 305.7,572.2 306.0,586.1 306.4,597.8 306.7,620.2 307.0,632.1 307.3,646.7 307.7,653.8 308.0,660.7 308.3,657.1 308.7,663.1 309.0,664.0 309.3,659.7 309.7,663.5 310.0,661.5 310.3,661.4 310.6,664.5 311.0,659.0 311.3,662.2 311.6,660.6 312.0,664.4 312.3,663.6 312.6,661.2 313.0,660.8 313.3,661.8 313.6,662.2 313.9,666.5 314.3,661.4 314.6,665.8 314.9,660.4 315.3,661.0 315.6,667.0 315.9,666.8 316.3,664.8 316.6,665.7 316.9,666.3 317.2,667.8 317.6,665.0 317.9,664.5 318.2,664.8 318.6,665.5 318.9,660.9 319.2,664.7 319.6,661.2 319.9,665.5 320.2,661.8 320.5,661.8 320.9,661.7 321.2,664.8 321.5,660.8 321.9,660.9 322.2,666.6 322.5,667.1 322.9,666.8 323.2,662.2 323.5,660.9 323.8,665.5 324.2,662.7 324.5,665.1 324.8,663.1 325.2,660.8 325.5,665.2 325.8,664.0 326.2,663.6 326.5,661.2 326.8,664.0 327.1,667.2 327.5,667.4 327.8,665.2 328.1,665.1 328.5,664.7 328.8,661.8 329.1,666.2 329.5,664.8 329.8,668.0 330.1,666.2 330.4,660.8 330.8,665.2 331.1,661.7 331.4,661.5 331.8,662.6 332.1,661.5 332.4,664.1 332.8,664.6 333.1,665.6 333.4,664.4 333.7,662.6 334.1,665.5 334.4,662.6 334.7,667.1 335.1,663.3 335.4,665.8 335.7,662.5 336.1,661.7 336.4,661.6 336.7,667.9 337.0,666.4 337.4,664.5 337.7,667.5 338.0,668.2 338.4,665.4 338.7,662.6 339.0,666.9 339.4,667.7 339.7,666.3 340.0,667.2 340.3,665.7 340.7,662.5 341.0,661.7 341.3,660.6 341.7,661.7 342.0,663.3 342.3,666.8 342.7,663.0 343.0,667.8 343.3,665.0 343.6,666.2 344.0,666.8 344.3,667.5 344.6,662.4 345.0,660.8 345.3,667.4 345.6,668.0 346.0,662.1 346.3,662.1 346.6,662.3 346.9,664.7 347.3,662.2 347.6,666.4 347.9,666.1 348.3,664.9 348.6,666.6 348.9,666.9 349.3,664.9 349.6,668.1 349.9,661.8 350.2,667.2 350.6,668.0 350.9,665.1 351.2,666.2 351.6,664.9 351.9,668.1 352.2,666.1 352.6,667.0 352.9,665.2 353.2,667.6 353.5,662.6 353.9,662.5 354.2,662.9 354.5,662.8 354.9,660.8 355.2,666.5 355.5,666.2 355.9,667.4 356.2,661.6 356.5,664.2 356.8,667.0 357.2,666.1 357.5,667.9 357.8,665.3 358.2,668.6 358.5,667.5 358.8,663.6 359.2,668.5 359.5,668.5 359.8,664.4 360.1,661.7 360.5,664.7 360.8,667.6 361.1,666.1 361.5,668.3 361.8,666.9 362.1,663.1 362.5,664.8 362.8,663.5 363.1,662.3 363.4,662.3 363.8,660.7 364.1,665.8 364.4,664.2 364.8,662.0 365.1,666.5 365.4,661.2 365.8,664.0 366.1,664.6 366.4,660.8 366.7,665.4 367.1,666.1 367.4,664.6 367.7,662.2 368.1,664.2 368.4,664.9 368.7,662.2 369.1,654.4 369.4,654.9 369.7,644.3 370.0,626.6 370.4,608.8 370.7,592.6 371.0,569.3 371.4,561.0 371.7,550.5 372.0,549.9 372.4,547.6 372.7,550.8 373.0,555.6 373.3,559.6 373.7,573.7 374.0,595.0 374.3,615.3 374.7,632.5 375.0,640.8 375.3,654.9 375.7,659.0 376.0,658.2 376.3,659.9 376.6,662.0 377.0,659.4 377.3,660.5 377.6,656.9 378.0,663.2 378.3,661.2 378.6,658.0 379.0,656.3 379.3,653.8 379.6,642.7 379.9,623.8 380.3,612.1 380.6,592.4 380.9,580.9 381.3,568.2 381.6,569.3 381.9,560.5 382.3,567.3 382.6,566.3 382.9,570.7 383.2,581.8 383.6,594.7 383.9,613.0 384.2,625.3 384.6,642.9 384.9,650.5 385.2,652.6 385.6,659.5 385.9,663.7 386.2,665.0 386.5,664.6 386.9,661.2 387.2,665.7 387.5,663.7 387.9,660.3 388.2,660.0 388.5,661.8 388.9,666.6 389.2,659.6 389.5,665.6 389.8,667.0 390.2,666.8 390.5,664.8 390.8,664.0 391.2,660.3 391.5,661.3 391.8,660.2 392.2,664.5 392.5,665.6 392.8,662.8 393.1,661.9 393.5,660.1 393.8,660.5 394.1,658.3 394.5,655.8 394.8,655.0 395.1,653.1 395.5,660.1 395.8,655.9 396.1,656.2 396.4,661.7 396.8,658.7 397.1,662.3 397.4,664.7 397.8,662.5 398.1,660.7 398.4,666.3 398.8,666.4 399.1,665.7 399.4,664.6 399.7,662.7 400.1,662.5 400.4,662.2 400.7,667.7 401.1,664.7 401.4,665.8 401.7,668.8 402.1,662.8 402.4,666.8 402.7,661.6 403.0,667.5 403.4,662.0 403.7,666.6 404.0,663.0 404.4,668.6 404.7,662.9 405.0,663.5 405.4,663.4 405.7,666.3 406.0,661.7 406.3,667.7 406.7,665.9 407.0,664.8 407.3,661.6 407.7,663.1 408.0,665.3 408.3,667.1 408.7,661.3 409.0,667.5 409.3,668.0 409.6,665.1 410.0,664.5 410.3,663.0 410.6,661.0 411.0,665.2 411.3,666.0 411.6,664.1 412.0,660.2 412.3,661.8 412.6,654.8 412.9,654.4 413.3,658.8 413.6,658.2 413.9,658.6 414.3,657.5 414.6,660.5 414.9,655.7 415.3,659.6 415.6,661.8 415.9,660.3 416.2,667.5 416.6,667.7 416.9,667.5 417.2,664.0 417.6,663.3 417.9,666.2 418.2,666.5 418.6,661.9 418.9,665.9 419.2,661.6 419.5,662.8 419.9,666.8 420.2,668.1 420.5,667.3 420.9,667.0 421.2,665.7 421.5,666.4 421.9,665.2 422.2,667.3 422.5,667.7 422.8,661.8 423.2,665.5 423.5,660.8 423.8,665.3 424.2,668.7 424.5,667.5 424.8,663.4 425.2,668.5 425.5,664.3 425.8,661.8 426.1,663.3 426.5,667.0 426.8,664.8 427.1,667.9 427.5,668.0 427.8,663.3 428.1,662.0 428.5,665.8 428.8,668.0 429.1,667.3 429.4,664.5 429.8,664.7 430.1,665.2 430.4,663.1 430.8,668.2 431.1,665.4 431.4,661.7 431.8,666.9 432.1,663.5 432.4,665.3 432.7,662.4 433.1,668.6 433.4,664.0 433.7,668.5 434.1,664.5 434.4,662.4 434.7,663.9 435.1,665.4 435.4,666.0 435.7,666.5 436.0,664.3 436.4,663.4 436.7,667.8 437.0,667.4 437.4,666.8 437.7,668.3 438.0,665.9 438.4,667.3 438.7,664.7 439.0,663.7 439.3,662.3 439.7,663.1 440.0,663.7 440.3,662.6 440.7,668.9 441.0,668.2 441.3,665.4 441.7,665.3 442.0,666.1 442.3,665.7 442.6,668.3 443.0,663.4 443.3,662.7 443.6,666.5 444.0,662.2 444.3,665.8 444.6,662.1 445.0,663.3 445.3,664.0 445.6,661.8 445.9,664.8 446.3,663.8 446.6,662.3 446.9,669.6 447.3,668.6 447.6,663.1 447.9,666.5 448.3,662.7 448.6,665.9 448.9,668.2 449.2,668.4 449.6,664.7 449.9,663.8 450.2,668.0 450.6,669.0 450.9,667.3 451.2,662.8 451.6,661.5 451.9,664.9 452.2,664.4 452.5,662.4 452.9,664.4 453.2,667.4 453.5,662.1 453.9,665.6 454.2,665.8 454.5,661.0 454.9,663.5 455.2,657.7 455.5,653.8 455.8,645.9 456.2,644.2 456.5,641.2 456.8,640.2 457.2,639.6 457.5,638.4 457.8,642.7 458.2,645.9 458.5,648.5 458.8,656.0 459.1,659.2 459.5,662.3 459.8,662.2 460.1,665.6 460.5,666.5 460.8,663.9 461.1,667.2 461.5,666.0 461.8,664.0 462.1,667.7 462.4,663.0 462.8,663.6 463.1,666.6 463.4,664.4 463.8,662.9 464.1,664.7 464.4,663.4 464.8,665.1 465.1,662.7 465.4,662.7 465.7,668.9 466.1,665.3 466.4,666.2 466.7,667.0 467.1,668.2 467.4,667.2 467.7,664.7 468.1,662.6 468.4,665.4 468.7,667.7 469.0,667.3 469.4,667.3 469.7,663.0 470.0,663.8 470.4,667.4 470.7,665.8 471.0,665.9 471.4,664.2 471.7,667.4 472.0,666.6 472.3,668.3 472.7,664.8 473.0,666.9 473.3,662.8 473.7,665.6 474.0,663.6 474.3,662.8 474.7,661.9 475.0,665.3 475.3,664.8 475.6,662.2 476.0,667.4 476.3,665.6 476.6,666.1 477.0,663.1 477.3,662.9 477.6,666.3 478.0,668.4 478.3,665.7 478.6,661.5 478.9,666.2 479.3,666.0 479.6,666.1 479.9,665.9 480.3,666.8 480.6,664.4 480.9,666.2 481.3,668.1 481.6,668.0 481.9,666.8 482.2,662.7 482.6,667.3 482.9,667.5 483.2,665.3 483.6,669.1 483.9,665.0 484.2,666.5 484.6,666.7 484.9,663.6 485.2,666.3 485.5,666.3 485.9,662.9 486.2,662.4 486.5,665.4 486.9,664.0 487.2,662.2 487.5,666.8 487.9,662.6 488.2,667.9 488.5,664.7 488.8,661.7 489.2,666.8 489.5,662.2 489.8,664.0 490.2,663.8 490.5,661.8 490.8,664.8 491.2,666.5 491.5,665.3 491.8,665.2 492.1,668.4 492.5,668.2 492.8,665.4 493.1,663.9 493.5,668.8 493.8,663.8 494.1,663.0 494.5,663.3 494.8,664.5 495.1,664.1 495.4,663.4 495.8,665.1 496.1,663.8 496.4,666.2 496.8,666.0 497.1,665.8 497.4,662.6 497.8,663.7 498.1,666.8 498.4,664.4 498.7,662.7 499.1,665.3 499.4,669.1 499.7,666.9 500.1,662.0 500.4,666.4 500.7,667.7 501.1,666.1 501.4,667.8 501.7,665.7 502.0,666.1 502.4,665.4 502.7,663.6 503.0,661.6 503.4,663.2 503.7,666.2 504.0,668.2 504.4,664.4 504.7,663.6 505.0,662.3 505.3,666.7 505.7,665.3 506.0,662.4 506.3,661.3 506.7,662.9 507.0,666.2 507.3,667.4 507.7,665.8 508.0,668.3 508.3,664.6 508.6,666.9 509.0,666.4 509.3,667.1 509.6,665.6 510.0,664.2 510.3,666.0 510.6,664.4 511.0,665.9 511.3,660.9 511.6,665.2 511.9,663.0 512.3,660.8 512.6,663.2 512.9,661.8 513.3,651.6 513.6,649.5 513.9,634.1 514.3,623.6 514.6,618.5 514.9,615.5 515.2,612.2 515.6,613.1 515.9,617.2 516.2,622.9 516.6,630.1 516.9,637.0 517.2,644.4 517.6,654.4 517.9,658.2 518.2,659.0 518.5,662.2 518.9,665.7 519.2,663.2 519.5,664.4 519.9,660.4 520.2,660.7 520.5,667.6 520.9,661.1 521.2,661.6 521.5,668.2 521.8,668.1 522.2,667.2 522.5,666.0 522.8,669.0 523.2,664.9 523.5,663.8 523.8,662.4 524.2,664.6 524.5,662.9 524.8,664.9 525.1,669.0 525.5,662.5 525.8,665.5 526.1,666.2 526.5,666.1 526.8,661.8 527.1,666.8 527.5,663.5 527.8,663.6 528.1,663.3 528.4,662.3 528.8,662.6 529.1,663.7 529.4,664.9 529.8,663.0 530.1,665.4 530.4,660.7 530.8,663.7 531.1,660.3 531.4,657.7 531.7,657.1 532.1,659.8 532.4,659.3 532.7,658.3 533.1,657.4 533.4,662.2 533.7,661.6 534.1,664.1 534.4,664.8 534.7,666.5 535.0,661.3 535.4,661.0 535.7,668.2 536.0,664.4 536.4,663.5 536.7,665.8 537.0,665.8 537.4,663.3 537.7,663.8 538.0,665.0 538.3,667.4 538.7,662.0 539.0,668.0 539.3,662.4 539.7,661.6 540.0,665.9 540.3,662.1 540.7,665.3 541.0,665.0 541.3,662.5 541.6,664.4 542.0,664.3 542.3,666.0 542.6,664.6 543.0,667.0 543.3,666.1 543.6,663.3 544.0,659.8 544.3,660.2 544.6,663.8 544.9,657.1 545.3,654.0 545.6,650.4 545.9,645.0 546.3,644.3 546.6,641.5 546.9,639.7 547.3,639.4 547.6,642.0 547.9,644.7 548.2,647.2 548.6,654.9 548.9,656.1 549.2,664.3 549.6,664.3 549.9,667.6 550.2,665.0 550.6,661.7 550.9,664.1 551.2,668.6 551.5,663.0 551.9,662.9 552.2,663.6 552.5,662.9 552.9,662.8 553.2,661.5 553.5,666.6 553.9,668.5 554.2,668.3 554.5,661.3 554.8,666.8 555.2,664.6 555.5,665.3 555.8,668.1 556.2,666.2 556.5,667.9 556.8,662.3 557.2,664.5 557.5,665.4 557.8,666.5 558.1,664.1 558.5,668.2 558.8,667.3 559.1,666.4 559.5,662.4 559.8,665.9 560.1,665.7 560.5,666.5 560.8,667.4 561.1,661.7 561.4,667.1 561.8,665.9 562.1,661.9 562.4,661.3 562.8,661.7 563.1,663.5 563.4,663.7 563.8,663.6 564.1,667.3 564.4,664.1 564.7,668.2 565.1,667.4 565.4,664.5 565.7,663.8 566.1,663.7 566.4,665.4 566.7,662.1 567.1,662.8 567.4,667.8 567.7,668.3 568.0,661.8 568.4,662.7 568.7,667.9 569.0,663.6 569.4,661.2 569.7,667.6 570.0,666.4 570.4,666.0 570.7,661.3 571.0,666.1 571.3,662.6 571.7,667.2 572.0,668.1 572.3,665.2 572.7,668.7 573.0,666.8 573.3,666.3 573.7,663.9 574.0,661.7 574.3,661.6 574.6,664.7 575.0,661.6 575.3,666.9 575.6,663.3 576.0,667.4 576.3,667.6 576.6,668.4 577.0,662.0 577.3,661.4 577.6,665.1 577.9,663.5 578.3,665.2 578.6,664.6 578.9,663.5 579.3,661.8 579.6,667.1 579.9,667.0 580.3,664.8 580.6,664.8 580.9,662.7 581.2,658.8 581.6,660.3 581.9,660.6 582.2,656.8 582.6,660.5 582.9,664.2 583.2,665.6 583.6,661.4 583.9,664.9 584.2,662.0 584.5,665.1 584.9,663.1 585.2,667.4 585.5,666.7 585.9,666.4 586.2,668.4 586.5,666.4 586.9,662.6 587.2,667.4 587.5,665.8 587.8,665.4 588.2,659.8 588.5,666.3 588.8,663.2 589.2,654.5 589.5,653.8 589.8,646.6 590.2,644.6 590.5,642.1 590.8,637.3 591.1,639.6 591.5,634.5 591.8,640.2 592.1,643.3 592.5,651.8 592.8,655.8 593.1,657.5 593.5,661.6 593.8,660.3 594.1,659.7 594.4,661.0 594.8,662.5 595.1,663.2 595.4,662.6 595.8,664.8 596.1,662.6 596.4,663.7 596.8,668.4 597.1,666.5 597.4,667.6 597.7,664.0 598.1,664.4 598.4,661.1 598.7,661.6 599.1,663.2 599.4,664.2 599.7,661.3 600.1,662.1 600.4,657.4 600.7,653.4 601.0,649.5 601.4,647.2 601.7,651.1 602.0,652.7 602.4,648.9 602.7,654.7 603.0,652.4 603.4,656.0 603.7,657.8 604.0,659.5 604.3,662.2 604.7,667.0 605.0,661.0 605.3,664.2 605.7,665.9 606.0,668.1 606.3,663.2 606.7,663.6 607.0,668.0 607.3,668.1 607.6,661.6 608.0,668.6 608.3,667.9 608.6,663.6 609.0,668.0 609.3,667.7 609.6,667.4 610.0,667.7 610.3,664.9 610.6,665.3 610.9,667.7 611.3,666.2 611.6,663.3 611.9,666.4 612.3,664.3 612.6,663.6 612.9,669.1 613.3,667.5 613.6,665.6 613.9,667.1 614.2,666.1 614.6,668.8 614.9,669.1 615.2,663.0 615.6,667.6 615.9,669.3 616.2,663.9 616.6,666.0 616.9,664.8 617.2,663.2 617.5,662.4 617.9,662.2 618.2,666.8 618.5,666.0 618.9,662.6 619.2,662.4 619.5,668.7 619.9,663.7 620.2,665.2 620.5,663.3 620.8,665.1 621.2,668.8 621.5,664.9 621.8,667.0 622.2,662.7 622.5,669.0 622.8,662.3 623.2,664.6 623.5,665.5 623.8,664.4 624.1,665.9 624.5,662.6 624.8,669.0 625.1,664.2 625.5,665.1 625.8,663.3 626.1,667.1 626.5,665.2 626.8,666.3 627.1,665.3 627.4,662.3 627.8,668.8 628.1,666.7 628.4,668.3 628.8,666.3 629.1,664.9 629.4,666.0 629.8,667.4 630.1,665.1 630.4,666.8 630.7,665.1 631.1,661.4 631.4,664.4 631.7,663.1 632.1,667.6 632.4,662.5 632.7,666.7 633.1,666.2 633.4,664.9 633.7,665.6 634.0,664.5 634.4,663.8 634.7,663.2 635.0,660.7 635.4,660.2 635.7,651.3 636.0,649.7 636.4,643.4 636.7,634.8 637.0,630.8 637.3,633.3 637.7,631.4 638.0,629.6 638.3,639.4 638.7,639.7 639.0,650.2 639.3,655.1 639.7,656.9 640.0,661.3 640.3,666.8 640.6,667.2 641.0,662.9 641.3,668.0 641.6,663.2 642.0,665.3 642.3,661.8 642.6,661.3 643.0,666.4 643.3,667.0 643.6,661.7 643.9,666.1 644.3,666.1 644.6,666.9 644.9,665.1 645.3,667.7 645.6,664.1 645.9,664.1 646.3,661.3 646.6,661.0 646.9,663.0 647.2,664.8 647.6,667.4 647.9,664.4 648.2,667.3 648.6,666.7 648.9,666.7 649.2,666.6 649.6,664.6 649.9,661.4 650.2,662.3 650.5,663.2 650.9,667.4 651.2,664.7 651.5,666.8 651.9,662.4 652.2,664.7 652.5,662.0 652.9,665.4 653.2,663.8 653.5,666.2 653.8,668.8 654.2,665.9 654.5,668.9 654.8,666.2 655.2,662.7 655.5,665.9 655.8,666.1 656.2,658.1 656.5,659.1 656.8,660.7 657.1,659.9 657.5,656.8 657.8,653.4 658.1,659.9 658.5,656.2 658.8,654.9 659.1,662.4 659.5,661.6 659.8,661.2 660.1,665.0 660.4,663.2 660.8,663.5 661.1,667.1 661.4,668.3 661.8,664.9 662.1,664.8 662.4,669.5 662.8,664.9 663.1,666.8 663.4,664.1 663.7,669.7 664.1,663.4 664.4,669.1 664.7,667.9 665.1,668.3 665.4,666.2 665.7,668.8 666.1,668.3 666.4,668.4 666.7,662.8 667.0,662.2 667.4,662.2 667.7,662.4 668.0,667.2 668.4,667.0 668.7,668.6 669.0,668.2 669.4,662.2 669.7,669.5 670.0,666.4 670.3,669.6 670.7,668.9 671.0,665.6 671.3,670.2 671.7,670.1 672.0,664.7 672.3,668.5 672.7,669.2 673.0,665.1 673.3,665.1 673.6,663.4 674.0,668.5 674.3,663.9 674.6,662.9 675.0,668.9 675.3,666.5 675.6,663.9 676.0,662.6 676.3,665.3 676.6,666.7 676.9,668.1 677.3,663.3 677.6,665.8 677.9,669.0 678.3,666.3 678.6,662.4 678.9,664.7 679.3,666.8 679.6,669.1 679.9,668.4 680.2,666.9 680.6,663.6 680.9,665.3 681.2,666.0 681.6,666.3 681.9,666.8 682.2,669.3 682.6,665.1 682.9,665.4 683.2,667.6 683.5,662.0 683.9,668.7 684.2,664.9 684.5,667.1 684.9,668.1 685.2,669.5 685.5,667.4 685.9,665.7 686.2,665.5 686.5,666.4 686.8,664.0 687.2,668.0 687.5,665.7 687.8,667.4 688.2,664.7 688.5,667.1 688.8,666.7 689.2,667.2 689.5,669.0 689.8,666.1 690.1,663.3 690.5,664.5 690.8,664.6 691.1,663.6 691.5,668.5 691.8,666.8 692.1,667.1 692.5,668.5 692.8,668.1 693.1,668.0 693.4,661.4 693.8,668.8 694.1,665.2 694.4,664.6 694.8,667.3 695.1,666.3 695.4,668.8 695.8,668.2 696.1,668.6 696.4,664.7 696.7,664.1 697.1,666.6 697.4,666.4 697.7,661.8 698.1,666.4 698.4,663.7 698.7,662.2 699.1,667.5 699.4,667.9 699.7,663.4 700.0,665.0 700.4,663.2 700.7,669.3 701.0,668.7 701.4,663.3 701.7,663.6 702.0,668.4 702.4,666.5 702.7,663.6 703.0,668.6 703.3,665.5 703.7,662.2 704.0,667.4 704.3,667.0 704.7,669.2 705.0,662.3 705.3,669.1 705.7,662.6 706.0,662.8 706.3,665.8 706.6,667.1 707.0,667.0 707.3,667.3 707.6,662.8 708.0,663.4 708.3,663.5 708.6,665.6 709.0,666.5 709.3,666.1 709.6,663.0 709.9,668.8 710.3,665.5 710.6,666.1 710.9,666.3 711.3,663.5 711.6,665.3 711.9,667.6 712.3,665.3 712.6,665.2 712.9,664.6 713.2,662.6 713.6,665.7 713.9,667.8 714.2,666.4 714.6,666.7 714.9,662.8 715.2,668.6 715.6,665.6 715.9,669.0 716.2,666.4 716.5,668.3 716.9,665.1 717.2,668.6 717.5,667.3 717.9,661.6 718.2,667.7 718.5,663.8 718.9,661.3 719.2,667.1 719.5,666.5 719.8,663.7 720.2,665.3 720.5,666.3 720.8,665.7 721.2,664.6 721.5,667.9 721.8,664.2 722.2,662.4 722.5,667.5 722.8,663.1 723.1,665.9 723.5,661.7 723.8,667.2 724.1,663.3 724.5,668.4 724.8,667.2 725.1,661.7 725.5,661.7 725.8,666.3 726.1,663.5 726.4,662.6 726.8,662.4 727.1,662.4 727.4,663.7 727.8,665.9 728.1,663.5 728.4,662.4 728.8,663.7 729.1,660.8 729.4,667.2 729.7,665.3 730.1,662.1 730.4,666.4 730.7,659.4 731.1,661.3 731.4,656.7 731.7,659.9 732.1,657.7 732.4,652.5 732.7,647.3 733.0,650.8 733.4,649.4 733.7,651.0 734.0,647.7 734.4,649.8 734.7,652.0 735.0,647.9 735.4,654.5 735.7,654.6 736.0,659.0 736.3,661.1 736.7,660.2 737.0,663.8 737.3,659.6 737.7,663.3 738.0,661.8 738.3,663.6 738.7,667.5 739.0,667.1 739.3,664.5 739.6,665.2 740.0,665.7 740.3,668.3 740.6,668.4 741.0,663.7 741.3,667.1 741.6,663.7 742.0,664.3 742.3,661.8 742.6,663.4 742.9,662.1 743.3,666.1 743.6,665.4 743.9,663.4 744.3,664.1 744.6,660.8 744.9,664.4 745.3,666.7 745.6,666.4 745.9,666.9 746.2,667.0 746.6,666.9 746.9,660.6 747.2,665.8 747.6,667.4 747.9,661.0 748.2,661.1 748.6,667.2 748.9,661.4 749.2,662.0 749.5,664.8 749.9,664.7 750.2,667.8 750.5,667.6 750.9,665.9 751.2,666.0 751.5,669.1 751.9,668.1 752.2,667.5 752.5,664.2 752.8,668.6 753.2,666.1 753.5,669.0 753.8,667.1 754.2,665.3 754.5,665.6 754.8,662.7 755.2,661.9 755.5,661.6 755.8,664.7 756.1,663.6 756.5,663.2 756.8,661.7 757.1,665.6 757.5,661.6 757.8,663.0 758.1,663.1 758.5,668.2 758.8,666.6 759.1,663.2 759.4,666.2 759.8,662.0 760.1,668.6 760.4,663.4 760.8,665.5 761.1,662.5 761.4,667.1 761.8,665.7 762.1,663.5 762.4,662.1 762.7,665.2 763.1,663.0 763.4,662.6 763.7,662.6 764.1,663.9 764.4,663.3 764.7,668.1 765.1,668.1 765.4,666.2 765.7,668.1 766.0,662.7 766.4,662.3 766.7,663.8 767.0,665.4 767.4,666.8 767.7,668.0 768.0,661.1 768.4,663.6 768.7,666.5 769.0,665.9 769.3,665.4 769.7,663.7 770.0,668.1 770.3,665.3 770.7,664.8 771.0,663.0 771.3,664.6 771.7,662.1 772.0,666.8 772.3,662.8 772.6,665.0 773.0,668.0 773.3,667.1 773.6,668.1 774.0,663.1 774.3,666.7 774.6,666.7 775.0,664.9 775.3,668.8 775.6,665.3 775.9,668.1 776.3,664.1 776.6,665.9 776.9,664.9 777.3,664.0 777.6,667.7 777.9,663.8 778.3,666.8 778.6,667.6 778.9,667.6 779.2,666.2 779.6,662.7 779.9,664.4 780.2,667.5 780.6,665.5 780.9,665.4 781.2,665.1 781.6,668.3 781.9,663.2 782.2,665.5 782.5,662.6 782.9,664.1 783.2,664.3 783.5,662.0 783.9,663.5 784.2,661.4 784.5,661.7 784.9,664.0 785.2,661.7 785.5,667.1 785.8,664.9 786.2,664.9 786.5,668.0 786.8,662.4 787.2,667.2 787.5,665.1 787.8,662.7 788.2,662.9 788.5,663.4 788.8,667.7 789.1,662.9 789.5,662.6 789.8,666.7 790.1,664.8 790.5,666.1 790.8,664.4 791.1,664.3 791.5,662.0 791.8,664.2 792.1,668.9 792.4,664.5 792.8,663.7 793.1,665.6 793.4,662.7 793.8,663.7 794.1,663.2 794.4,664.3 794.8,668.2 795.1,667.2 795.4,664.1 795.7,666.1 796.1,661.9 796.4,667.5 796.7,663.7 797.1,661.9 797.4,666.5 797.7,667.3 798.1,662.8 798.4,661.8 798.7,661.8 799.0,664.7 799.4,664.2 799.7,667.1 800.0,667.6 800.4,663.7 800.7,664.1 801.0,662.8 801.4,660.9 801.7,660.6 802.0,661.4 802.3,657.6 802.7,660.6 803.0,654.8 803.3,657.2 803.7,651.2 804.0,652.6 804.3,654.5 804.7,652.1 805.0,654.7 805.3,653.5 805.6,653.8 806.0,658.5 806.3,661.2 806.6,656.9 807.0,665.1 807.3,659.7 807.6,667.5 808.0,662.4 808.3,667.4 808.6,667.1 808.9,664.3 809.3,662.8 809.6,663.0 809.9,662.8 810.3,667.9 810.6,665.0 810.9,666.2 811.3,665.2 811.6,661.7 811.9,668.2 812.2,666.5 812.6,667.3 812.9,666.2 813.2,669.0 813.6,665.9 813.9,668.2 814.2,668.7 814.6,666.5 814.9,666.2 815.2,667.0 815.5,668.1 815.9,663.9 816.2,666.9 816.5,663.9 816.9,667.0 817.2,668.1 817.5,666.6 817.9,668.9 818.2,664.1 818.5,664.8 818.8,666.5 819.2,663.4 819.5,668.5 819.8,665.0 820.2,665.2 820.5,664.8 820.8,665.7 821.2,664.7 821.5,661.8 821.8,664.3 822.1,664.9 822.5,662.2 822.8,666.7 823.1,667.3 823.5,661.8 823.8,664.5 824.1,665.8 824.5,661.2 824.8,663.2 825.1,660.6 825.4,666.6 825.8,662.3 826.1,660.4 826.4,666.1 826.8,663.9 827.1,662.4 827.4,658.2 827.8,662.2 828.1,657.0 828.4,654.5 828.7,655.5 829.1,656.4 829.4,657.8 829.7,659.6 830.1,660.2 830.4,662.9 830.7,658.7 831.1,661.5 831.4,659.5 831.7,665.8 832.0,665.1 832.4,661.0 832.7,663.6 833.0,661.9 833.4,662.2 833.7,665.8 834.0,663.9 834.4,662.7 834.7,668.2 835.0,662.2 835.3,663.2 835.7,664.5 836.0,664.7 836.3,668.2 836.7,668.3 837.0,668.4 837.3,662.0 837.7,661.6 838.0,666.5 838.3,669.1 838.6,664.2 839.0,666.2 839.3,662.9 839.6,666.0 840.0,668.6 840.3,665.8 840.6,666.1 841.0,664.5 841.3,665.7 841.6,662.8 841.9,661.7 842.3,663.0 842.6,666.4 842.9,668.9 843.3,663.7 843.6,664.3 843.9,663.9 844.3,666.9 844.6,666.6 844.9,664.8 845.2,664.9 845.6,663.5 845.9,662.8 846.2,662.7 846.6,666.8 846.9,663.7 847.2,664.7 847.6,662.8 847.9,666.4 848.2,668.9 848.5,666.9 848.9,668.7 849.2,663.4 849.5,668.9 849.9,662.9 850.2,664.6 850.5,665.6 850.9,665.7 851.2,665.7 851.5,663.9 851.8,663.8 852.2,664.8 852.5,663.5 852.8,668.3 853.2,665.3 853.5,666.2 853.8,666.4 854.2,663.9 854.5,669.2 854.8,664.4 855.1,669.0 855.5,664.0 855.8,665.7 856.1,667.1 856.5,669.2 856.8,665.0 857.1,668.3 857.5,665.8 857.8,663.9 858.1,665.2 858.4,668.7 858.8,662.5 859.1,668.6 859.4,668.5 859.8,662.9 860.1,667.9 860.4,669.3 860.8,664.0 861.1,667.8 861.4,663.6 861.7,666.7 862.1,668.8 862.4,669.2 862.7,668.6 863.1,668.4 863.4,669.0 863.7,666.7 864.1,669.5 864.4,669.7 864.7,665.9 865.0,663.9 865.4,670.0 865.7,668.3 866.0,667.0 866.4,668.4 866.7,668.6 867.0,663.6 867.4,666.3 867.7,666.8 868.0,665.9 868.3,663.3 868.7,668.7 869.0,666.8 869.3,669.8 869.7,663.1 870.0,664.4 870.3,666.7 870.7,663.7 871.0,668.6 871.3,665.9 871.6,663.7 872.0,664.2 872.3,669.8 872.6,665.6 873.0,667.1 873.3,668.8 873.6,669.3 874.0,669.6 874.3,663.4 874.6,663.8 874.9,669.1 875.3,663.2 875.6,669.6 875.9,664.6 876.3,666.1 876.6,664.9 876.9,667.9 877.3,667.4 877.6,669.0 877.9,665.6 878.2,663.5 878.6,670.1 878.9,669.6 879.2,663.8 879.6,664.0 879.9,665.7 880.2,663.9 880.6,666.5 880.9,670.0 881.2,664.5 881.5,664.7 881.9,665.1 882.2,667.5 882.5,663.7 882.9,662.8 883.2,668.0 883.5,665.8 883.9,662.6 884.2,664.6 884.5,666.6 884.8,661.8 885.2,668.3 885.5,667.3 885.8,665.2 886.2,667.9 886.5,663.4 886.8,668.4 887.2,663.2 887.5,668.7 887.8,664.4 888.1,669.2 888.5,669.6 888.8,663.6 889.1,663.3 889.5,663.3 889.8,663.5 890.1,668.2 890.5,664.4 890.8,664.9 891.1,666.0 891.4,669.0 891.8,665.7 892.1,662.6 892.4,664.7 892.8,665.4 893.1,669.7 893.4,664.6 893.8,667.0 894.1,668.6 894.4,665.4 894.7,664.4 895.1,669.9 895.4,664.3 895.7,669.8 896.1,664.5 896.4,663.6 896.7,667.8 897.1,668.9 897.4,662.4 897.7,664.9 898.0,664.2 898.4,665.6 898.7,669.7 899.0,663.2 899.4,667.5 899.7,670.0 900.0,669.4 900.4,669.8 900.7,665.2 901.0,664.2 901.3,663.2 901.7,664.3 902.0,666.5 902.3,665.0 902.7,669.8 903.0,666.0 903.3,667.8 903.7,667.2 904.0,667.5 904.3,665.5 904.6,669.2 905.0,664.2 905.3,664.5 905.6,664.7 906.0,663.0 906.3,662.5 906.6,666.1 907.0,668.3 907.3,668.2 907.6,663.3 907.9,663.4 908.3,664.8 908.6,667.0 908.9,665.8 909.3,662.5 909.6,663.3 909.9,666.2 910.3,664.8 910.6,666.0 910.9,667.5 911.2,668.6 911.6,665.4 911.9,662.1 912.2,663.4 912.6,669.6 912.9,662.9 913.2,665.9 913.6,663.3 913.9,663.3 914.2,665.2 914.5,664.4 914.9,667.3 915.2,669.0 915.5,666.8 915.9,670.1 916.2,667.3 916.5,669.3 916.9,669.8 917.2,663.1 917.5,663.4 917.8,666.3 918.2,667.1 918.5,666.6 918.8,664.4 919.2,663.4 919.5,664.2 919.8,666.3 920.2,667.7 920.5,660.2 920.8,663.8 921.1,663.6 921.5,661.5 921.8,665.0 922.1,660.6 922.5,664.0 922.8,660.5 923.1,665.3 923.5,658.4 923.8,660.8 924.1,662.0 924.4,664.8 924.8,663.8 925.1,664.5 925.4,663.7 925.8,662.3 926.1,663.5 926.4,665.9 926.8,665.6 927.1,663.0 927.4,666.7 927.7,666.7 928.1,664.6 928.4,667.0 928.7,667.0 929.1,665.7 929.4,666.8 929.7,661.7 930.1,667.1 930.4,664.2 930.7,665.4 931.0,669.3 931.4,664.5 931.7,667.8 932.0,663.1 932.4,661.6 932.7,668.9 933.0,668.2 933.4,664.5 933.7,666.4 934.0,667.5 934.3,668.4 934.7,668.4 935.0,663.2 935.3,668.7 935.7,664.4 936.0,666.2 936.3,664.0 936.7,668.5 937.0,667.7 937.3,665.8 937.6,663.6 938.0,666.5 938.3,662.2 938.6,666.8 939.0,663.4 939.3,666.6 939.6,664.6 940.0,668.0 940.3,664.4 940.6,668.5 940.9,667.7 941.3,660.7 941.6,665.4 941.9,661.4 942.3,657.8 942.6,661.6 942.9,657.5 943.3,662.8 943.6,658.6 943.9,662.6 944.2,664.0 944.6,660.2 944.9,663.7 945.2,662.3 945.6,660.4 945.9,667.0 946.2,663.7 946.6,661.6 946.9,669.2 947.2,669.8 947.5,669.1 947.9,664.2 948.2,669.2 948.5,664.1 948.9,663.2 949.2,667.4 949.5,669.2 949.9,663.0 950.2,664.7 950.5,663.4 950.8,670.2 951.2,663.2 951.5,668.9 951.8,666.3 952.2,667.4 952.5,665.3 952.8,666.6 953.2,669.5 953.5,669.1 953.8,669.4 954.1,665.4 954.5,663.2 954.8,667.1 955.1,666.5 955.5,668.1 955.8,667.2" fill="none" stroke="#000000" stroke-width="4.2" stroke-linejoin="round"/>
<line x1="143.7" y1="27.5" x2="143.7" y2="696" stroke="#000" stroke-width="5.5"/>
<line x1="955.7" y1="27.5" x2="955.7" y2="696" stroke="#000" stroke-width="5.5"/>
<line x1="143.7" y1="30" x2="955.7" y2="30" stroke="#000" stroke-width="5"/>
<line x1="143.7" y1="684" x2="955.7" y2="684" stroke="#000" stroke-width="5"/>
<line x1="194.4" y1="684" x2="194.4" y2="690.5" stroke="#000" stroke-width="4.5"/>
<line x1="245.2" y1="684" x2="245.2" y2="695.5" stroke="#000" stroke-width="4.5"/>
<line x1="295.9" y1="684" x2="295.9" y2="690.5" stroke="#000" stroke-width="4.5"/>
<line x1="346.7" y1="684" x2="346.7" y2="695.5" stroke="#000" stroke-width="4.5"/>
<line x1="397.4" y1="684" x2="397.4" y2="690.5" stroke="#000" stroke-width="4.5"/>
<line x1="448.2" y1="684" x2="448.2" y2="695.5" stroke="#000" stroke-width="4.5"/>
<line x1="498.9" y1="684" x2="498.9" y2="690.5" stroke="#000" stroke-width="4.5"/>
<line x1="549.7" y1="684" x2="549.7" y2="695.5" stroke="#000" stroke-width="4.5"/>
<line x1="600.5" y1="684" x2="600.5" y2="690.5" stroke="#000" stroke-width="4.5"/>
<line x1="651.2" y1="684" x2="651.2" y2="695.5" stroke="#000" stroke-width="4.5"/>
<line x1="702.0" y1="684" x2="702.0" y2="690.5" stroke="#000" stroke-width="4.5"/>
<line x1="752.7" y1="684" x2="752.7" y2="695.5" stroke="#000" stroke-width="4.5"/>
<line x1="803.5" y1="684" x2="803.5" y2="690.5" stroke="#000" stroke-width="4.5"/>
<line x1="854.2" y1="684" x2="854.2" y2="695.5" stroke="#000" stroke-width="4.5"/>
<line x1="905.0" y1="684" x2="905.0" y2="690.5" stroke="#000" stroke-width="4.5"/>
<text x="143.7" y="745" class="tk">10</text>
<text x="245.2" y="745" class="tk">20</text>
<text x="346.7" y="745" class="tk">30</text>
<text x="448.2" y="745" class="tk">40</text>
<text x="549.7" y="745" class="tk">50</text>
<text x="651.2" y="745" class="tk">60</text>
<text x="752.7" y="745" class="tk">70</text>
<text x="854.2" y="745" class="tk">80</text>
<text x="955.7" y="745" class="tk">90</text>
<text transform="translate(174.0,164.8) rotate(-90)" class="hkl">(001)</text>
<text transform="translate(280.0,196.8) rotate(-90)" class="hkl">(002)</text>
<text transform="translate(314.0,112.5) rotate(-90)" class="hkl">(101)</text>
<text transform="translate(374.0,99.1) rotate(-90)" class="hkl">(110)</text>
<text transform="translate(413.0,123.3) rotate(-90)" class="hkl">(102)</text>
<text transform="translate(468.0,201.0) rotate(-90)" class="hkl">(112)</text>
<text transform="translate(525.0,185.9) rotate(-90)" class="hkl">(200)</text>
<text transform="translate(565.3,203.2) rotate(-90)" class="hkl">(113)</text>
<text transform="translate(646.0,195.2) rotate(-90)" class="hkl">(212)</text>
<text x="694.5" y="253" class="lab" fill="#0000ff">Br-BiOCl-2</text>
<text x="696" y="381.5" class="lab" fill="#00ff00">Br-BiOCl-1</text>
<text x="685.5" y="511" class="lab" fill="#ff0000">Br-BiOCl-0.5</text>
<text x="754" y="635" class="lab" fill="#000">BiOCl</text>
<text transform="translate(86.5,338) rotate(-90)" style="font-size:55.5px;text-anchor:middle">Intensity (a.u.)</text>
<text x="435" y="820" style="font-size:55.5px">2</text>
<text transform="translate(468.5,820) skewX(-14) scale(1.05,1)" style="font-size:55px;font-family:'Liberation Serif',serif;font-style:italic;font-weight:normal">&#952;</text>
<text x="511.5" y="820" style="font-size:55.5px">(deg.)</text>
</svg>
</body></html>
